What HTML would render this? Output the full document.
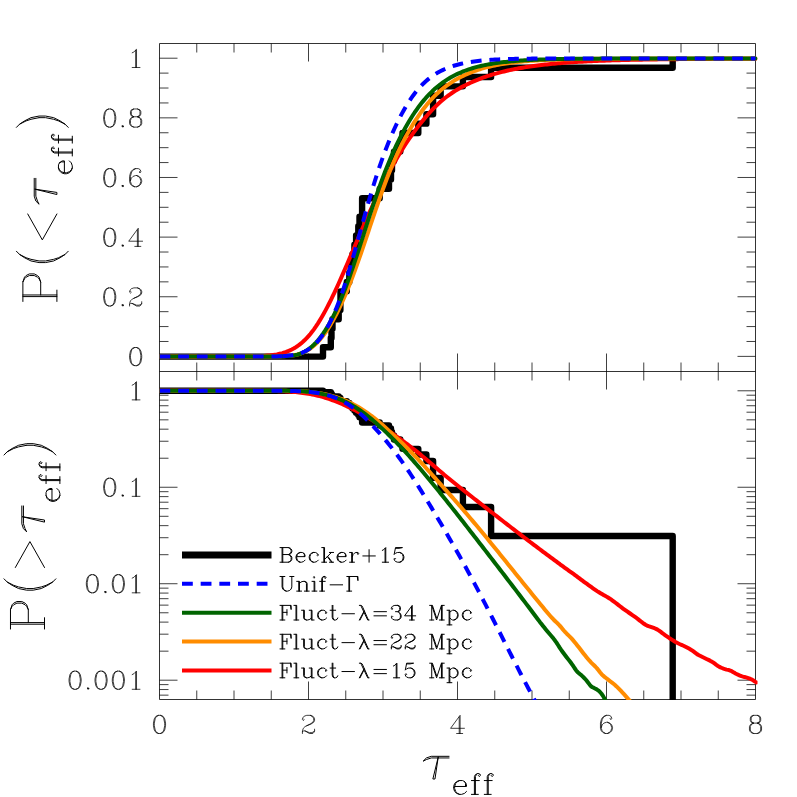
<!DOCTYPE html>
<html><head><meta charset="utf-8"><title>tau_eff CDF</title><style>html,body{margin:0;padding:0;background:#fff}body{width:797px;height:797px;overflow:hidden;font-family:"Liberation Sans",sans-serif}svg{display:block}</style></head><body>
<svg width="797" height="797" viewBox="0 0 797 797">
<rect width="797" height="797" fill="#fff"/>
<defs><clipPath id="ct"><rect x="159.5" y="43.5" width="598.0" height="328.0"/></clipPath><clipPath id="cb"><rect x="159.5" y="371.5" width="598.0" height="328.5"/></clipPath></defs>
<path d="M196.75 43.5V52.5M196.75 362.5V380.5M196.75 690.5V699.5M234 43.5V52.5M234 362.5V380.5M234 690.5V699.5M271.25 43.5V52.5M271.25 362.5V380.5M271.25 690.5V699.5M308.5 43.5V61.5M308.5 353.5V389.5M308.5 681.5V699.5M345.75 43.5V52.5M345.75 362.5V380.5M345.75 690.5V699.5M383 43.5V52.5M383 362.5V380.5M383 690.5V699.5M420.25 43.5V52.5M420.25 362.5V380.5M420.25 690.5V699.5M457.5 43.5V61.5M457.5 353.5V389.5M457.5 681.5V699.5M494.75 43.5V52.5M494.75 362.5V380.5M494.75 690.5V699.5M532 43.5V52.5M532 362.5V380.5M532 690.5V699.5M569.25 43.5V52.5M569.25 362.5V380.5M569.25 690.5V699.5M606.5 43.5V61.5M606.5 353.5V389.5M606.5 681.5V699.5M643.75 43.5V52.5M643.75 362.5V380.5M643.75 690.5V699.5M681 43.5V52.5M681 362.5V380.5M681 690.5V699.5M718.25 43.5V52.5M718.25 362.5V380.5M718.25 690.5V699.5M159.5 356.39H177.5M737.5 356.39H755.5M159.5 341.48H168.5M746.5 341.48H755.5M159.5 326.57H168.5M746.5 326.57H755.5M159.5 311.66H168.5M746.5 311.66H755.5M159.5 296.75H177.5M737.5 296.75H755.5M159.5 281.85H168.5M746.5 281.85H755.5M159.5 266.94H168.5M746.5 266.94H755.5M159.5 252.03H168.5M746.5 252.03H755.5M159.5 237.12H177.5M737.5 237.12H755.5M159.5 222.21H168.5M746.5 222.21H755.5M159.5 207.3H168.5M746.5 207.3H755.5M159.5 192.39H168.5M746.5 192.39H755.5M159.5 177.48H177.5M737.5 177.48H755.5M159.5 162.57H168.5M746.5 162.57H755.5M159.5 147.66H168.5M746.5 147.66H755.5M159.5 132.76H168.5M746.5 132.76H755.5M159.5 117.85H177.5M737.5 117.85H755.5M159.5 102.94H168.5M746.5 102.94H755.5M159.5 88.03H168.5M746.5 88.03H755.5M159.5 73.12H168.5M746.5 73.12H755.5M159.5 58.21H177.5M737.5 58.21H755.5M159.5 695.15H168.5M746.5 695.15H755.5M159.5 689.55H168.5M746.5 689.55H755.5M159.5 684.62H168.5M746.5 684.62H755.5M159.5 680.2H177.5M737.5 680.2H755.5M159.5 651.16H168.5M746.5 651.16H755.5M159.5 634.18H168.5M746.5 634.18H755.5M159.5 622.12H168.5M746.5 622.12H755.5M159.5 612.77H168.5M746.5 612.77H755.5M159.5 605.14H168.5M746.5 605.14H755.5M159.5 598.68H168.5M746.5 598.68H755.5M159.5 593.08H168.5M746.5 593.08H755.5M159.5 588.15H168.5M746.5 588.15H755.5M159.5 583.73H177.5M737.5 583.73H755.5M159.5 554.69H168.5M746.5 554.69H755.5M159.5 537.71H168.5M746.5 537.71H755.5M159.5 525.65H168.5M746.5 525.65H755.5M159.5 516.3H168.5M746.5 516.3H755.5M159.5 508.67H168.5M746.5 508.67H755.5M159.5 502.21H168.5M746.5 502.21H755.5M159.5 496.61H168.5M746.5 496.61H755.5M159.5 491.68H168.5M746.5 491.68H755.5M159.5 487.26H177.5M737.5 487.26H755.5M159.5 458.22H168.5M746.5 458.22H755.5M159.5 441.24H168.5M746.5 441.24H755.5M159.5 429.18H168.5M746.5 429.18H755.5M159.5 419.83H168.5M746.5 419.83H755.5M159.5 412.2H168.5M746.5 412.2H755.5M159.5 405.74H168.5M746.5 405.74H755.5M159.5 400.14H168.5M746.5 400.14H755.5M159.5 395.21H168.5M746.5 395.21H755.5M159.5 390.79H177.5M737.5 390.79H755.5" stroke="#000" stroke-width="0.75" fill="none"/>
<path d="M159.5 43.5H755.5V699.5H159.5ZM159.5 371.5H755.5" stroke="#000" stroke-width="0.8" fill="none"/>
<g clip-path="url(#ct)" fill="none" stroke-linejoin="round">
<path d="M159.5 356.59 L323 356.59 L323 347.27 L330.8 347.27 L330.8 337.95 L331.5 337.95 L331.5 328.64 L332.5 328.64 L332.5 319.32 L338.7 319.32 L338.7 310 L340.4 310 L340.4 300.68 L340.5 300.68 L340.5 291.36 L346.8 291.36 L346.8 282.05 L349.3 282.05 L349.3 272.73 L350.8 272.73 L350.8 263.41 L352.5 263.41 L352.5 254.09 L354.4 254.09 L354.4 244.77 L356.1 244.77 L356.1 235.46 L358.3 235.46 L358.3 226.14 L359.5 226.14 L359.5 216.82 L362.1 216.82 L362.1 207.5 L362.1 207.5 L362.1 198.18 L379.7 198.18 L379.7 188.86 L389 188.86 L389 179.55 L391 179.55 L391 170.23 L392 170.23 L392 160.91 L394 160.91 L394 151.59 L400.3 151.59 L400.3 142.27 L402.5 142.27 L402.5 132.96 L418.3 132.96 L418.3 123.64 L426.4 123.64 L426.4 114.32 L433.1 114.32 L433.1 105 L433.1 105 L433.1 95.68 L440.65 95.68 L440.65 86.37 L462.9 86.37 L462.9 77.05 L491.1 77.05 L491.1 67.73 L672.7 67.73 L672.7 58.41" stroke="#000" stroke-width="6.4" stroke-linejoin="round"/>
<path d="M159.5 356.59 L161.36 356.59 L163.22 356.59 L165.09 356.59 L166.95 356.59 L168.81 356.59 L170.68 356.59 L172.54 356.59 L174.4 356.59 L176.26 356.59 L178.12 356.59 L179.99 356.59 L181.85 356.59 L183.71 356.59 L185.57 356.59 L187.44 356.59 L189.3 356.59 L191.16 356.59 L193.03 356.59 L194.89 356.59 L196.75 356.59 L198.61 356.59 L200.47 356.59 L202.34 356.59 L204.2 356.59 L206.06 356.59 L207.93 356.59 L209.79 356.59 L211.65 356.59 L213.51 356.59 L215.38 356.59 L217.24 356.59 L219.1 356.59 L220.96 356.59 L222.83 356.58 L224.69 356.58 L226.55 356.58 L228.41 356.58 L230.28 356.57 L232.14 356.57 L234 356.56 L235.86 356.56 L237.73 356.55 L239.59 356.54 L241.45 356.52 L243.31 356.51 L245.18 356.49 L247.04 356.46 L248.9 356.44 L250.76 356.4 L252.62 356.36 L254.49 356.31 L256.35 356.25 L258.21 356.19 L260.07 356.1 L261.94 356.01 L263.8 355.89 L265.66 355.76 L267.53 355.61 L269.39 355.43 L271.25 355.21 L273.11 354.97 L274.98 354.69 L276.84 354.37 L278.7 353.99 L280.56 353.57 L282.43 353.08 L284.29 352.53 L286.15 351.91 L288.01 351.2 L289.88 350.41 L291.74 349.53 L293.6 348.54 L295.46 347.44 L297.33 346.23 L299.19 344.89 L301.05 343.43 L302.91 341.82 L304.77 340.08 L306.64 338.19 L308.5 336.14 L310.36 333.95 L312.23 331.6 L314.09 329.09 L315.95 326.43 L317.81 323.62 L319.67 320.65 L321.54 317.54 L323.4 314.29 L325.26 310.91 L327.12 307.4 L328.99 303.78 L330.85 300.05 L332.71 296.22 L334.58 292.3 L336.44 288.29 L338.3 284.21 L340.16 280.07 L342.02 275.86 L343.89 271.61 L345.75 267.32 L347.61 262.99 L349.48 258.65 L351.34 254.28 L353.2 249.91 L355.06 245.54 L356.93 241.17 L358.79 236.82 L360.65 232.49 L362.51 228.18 L364.38 223.91 L366.24 219.67 L368.1 215.48 L369.96 211.33 L371.83 207.23 L373.69 203.18 L375.55 199.19 L377.41 195.26 L379.27 191.4 L381.14 187.59 L383 183.86 L384.86 180.19 L386.73 176.59 L388.59 173.07 L390.45 169.61 L392.31 166.23 L394.18 162.91 L396.04 159.67 L397.9 156.51 L399.76 153.41 L401.62 150.39 L403.49 147.43 L405.35 144.54 L407.21 141.72 L409.08 138.96 L410.94 136.27 L412.8 133.64 L414.66 131.08 L416.53 128.57 L418.39 126.12 L420.25 123.73 L422.11 121.4 L423.98 119.12 L425.84 116.9 L427.7 114.75 L429.56 112.66 L431.43 110.64 L433.29 108.69 L435.15 106.8 L437.01 104.99 L438.88 103.25 L440.74 101.58 L442.6 99.98 L444.46 98.45 L446.32 96.99 L448.19 95.59 L450.05 94.26 L451.91 92.99 L453.78 91.77 L455.64 90.6 L457.5 89.48 L459.36 88.4 L461.22 87.37 L463.09 86.37 L464.95 85.41 L466.81 84.49 L468.68 83.6 L470.54 82.74 L472.4 81.91 L474.26 81.1 L476.12 80.33 L477.99 79.58 L479.85 78.85 L481.71 78.15 L483.58 77.48 L485.44 76.83 L487.3 76.2 L489.16 75.59 L491.03 75 L492.89 74.44 L494.75 73.89 L496.61 73.37 L498.47 72.86 L500.34 72.37 L502.2 71.89 L504.06 71.44 L505.93 71 L507.79 70.57 L509.65 70.16 L511.51 69.76 L513.38 69.38 L515.24 69.01 L517.1 68.66 L518.96 68.31 L520.83 67.98 L522.69 67.66 L524.55 67.35 L526.41 67.06 L528.28 66.77 L530.14 66.49 L532 66.22 L533.86 65.97 L535.73 65.72 L537.59 65.48 L539.45 65.24 L541.31 65.02 L543.17 64.8 L545.04 64.59 L546.9 64.39 L548.76 64.2 L550.62 64.01 L552.49 63.83 L554.35 63.65 L556.21 63.48 L558.08 63.32 L559.94 63.16 L561.8 63.01 L563.66 62.86 L565.53 62.72 L567.39 62.58 L569.25 62.45 L571.11 62.32 L572.98 62.2 L574.84 62.08 L576.7 61.96 L578.56 61.85 L580.42 61.74 L582.29 61.64 L584.15 61.53 L586.01 61.44 L587.88 61.34 L589.74 61.25 L591.6 61.16 L593.46 61.08 L595.33 61 L597.19 60.92 L599.05 60.84 L600.91 60.77 L602.78 60.7 L604.64 60.63 L606.5 60.56 L608.36 60.49 L610.23 60.43 L612.09 60.37 L613.95 60.31 L615.81 60.26 L617.67 60.2 L619.54 60.15 L621.4 60.1 L623.26 60.05 L625.12 60 L626.99 59.95 L628.85 59.91 L630.71 59.87 L632.58 59.82 L634.44 59.78 L636.3 59.75 L638.16 59.71 L640.03 59.67 L641.89 59.64 L643.75 59.6 L645.61 59.57 L647.48 59.54 L649.34 59.5 L651.2 59.47 L653.06 59.44 L654.92 59.42 L656.79 59.39 L658.65 59.36 L660.51 59.34 L662.38 59.31 L664.24 59.29 L666.1 59.26 L667.96 59.24 L669.83 59.22 L671.69 59.2 L673.55 59.18 L675.41 59.16 L677.27 59.14 L679.14 59.12 L681 59.1 L682.86 59.08 L684.73 59.07 L686.59 59.05 L688.45 59.03 L690.31 59.02 L692.18 59 L694.04 58.99 L695.9 58.98 L697.76 58.96 L699.62 58.95 L701.49 58.94 L703.35 58.92 L705.21 58.91 L707.08 58.9 L708.94 58.89 L710.8 58.88 L712.66 58.87 L714.52 58.86 L716.39 58.85 L718.25 58.84 L720.11 58.83 L721.98 58.82 L723.84 58.81 L725.7 58.8 L727.56 58.79 L729.43 58.79 L731.29 58.78 L733.15 58.77 L735.01 58.76 L736.88 58.76 L738.74 58.75 L740.6 58.74 L742.46 58.74 L744.33 58.73 L746.19 58.72 L748.05 58.72 L749.91 58.71 L751.77 58.71 L753.64 58.7 L755.5 58.7" stroke="#ff0000" stroke-width="4" stroke-linecap="round"/>
<path d="M159.5 356.59 L161.36 356.59 L163.22 356.59 L165.09 356.59 L166.95 356.59 L168.81 356.59 L170.68 356.59 L172.54 356.59 L174.4 356.59 L176.26 356.59 L178.12 356.59 L179.99 356.59 L181.85 356.59 L183.71 356.59 L185.57 356.59 L187.44 356.59 L189.3 356.59 L191.16 356.59 L193.03 356.59 L194.89 356.59 L196.75 356.59 L198.61 356.59 L200.47 356.59 L202.34 356.59 L204.2 356.59 L206.06 356.59 L207.93 356.59 L209.79 356.59 L211.65 356.59 L213.51 356.59 L215.38 356.59 L217.24 356.59 L219.1 356.59 L220.96 356.59 L222.83 356.59 L224.69 356.59 L226.55 356.59 L228.41 356.59 L230.28 356.59 L232.14 356.59 L234 356.59 L235.86 356.59 L237.73 356.59 L239.59 356.59 L241.45 356.59 L243.31 356.59 L245.18 356.59 L247.04 356.59 L248.9 356.59 L250.76 356.59 L252.62 356.59 L254.49 356.59 L256.35 356.59 L258.21 356.59 L260.07 356.58 L261.94 356.58 L263.8 356.58 L265.66 356.57 L267.53 356.57 L269.39 356.56 L271.25 356.54 L273.11 356.53 L274.98 356.5 L276.84 356.47 L278.7 356.43 L280.56 356.38 L282.43 356.31 L284.29 356.22 L286.15 356.11 L288.01 355.97 L289.88 355.79 L291.74 355.57 L293.6 355.29 L295.46 354.95 L297.33 354.52 L299.19 354.01 L301.05 353.38 L302.91 352.65 L304.77 351.8 L306.64 350.83 L308.5 349.72 L310.36 348.47 L312.23 347.08 L314.09 345.52 L315.95 343.81 L317.81 341.94 L319.67 339.9 L321.54 337.69 L323.4 335.32 L325.26 332.77 L327.12 330.05 L328.99 327.17 L330.85 324.12 L332.71 320.9 L334.58 317.51 L336.44 313.96 L338.3 310.25 L340.16 306.39 L342.02 302.36 L343.89 298.19 L345.75 293.86 L347.61 289.38 L349.48 284.75 L351.34 279.98 L353.2 275.07 L355.06 270.02 L356.93 264.86 L358.79 259.6 L360.65 254.25 L362.51 248.82 L364.38 243.34 L366.24 237.82 L368.1 232.27 L369.96 226.72 L371.83 221.18 L373.69 215.66 L375.55 210.19 L377.41 204.77 L379.27 199.43 L381.14 194.17 L383 189.01 L384.86 183.96 L386.73 179.03 L388.59 174.23 L390.45 169.57 L392.31 165.05 L394.18 160.68 L396.04 156.47 L397.9 152.41 L399.76 148.49 L401.62 144.72 L403.49 141.07 L405.35 137.56 L407.21 134.16 L409.08 130.88 L410.94 127.71 L412.8 124.65 L414.66 121.68 L416.53 118.81 L418.39 116.03 L420.25 113.35 L422.11 110.77 L423.98 108.28 L425.84 105.9 L427.7 103.61 L429.56 101.43 L431.43 99.34 L433.29 97.35 L435.15 95.46 L437.01 93.66 L438.88 91.95 L440.74 90.32 L442.6 88.78 L444.46 87.3 L446.32 85.9 L448.19 84.57 L450.05 83.3 L451.91 82.08 L453.78 80.92 L455.64 79.82 L457.5 78.76 L459.36 77.75 L461.22 76.79 L463.09 75.87 L464.95 74.99 L466.81 74.15 L468.68 73.35 L470.54 72.58 L472.4 71.86 L474.26 71.16 L476.12 70.5 L477.99 69.88 L479.85 69.28 L481.71 68.71 L483.58 68.17 L485.44 67.66 L487.3 67.17 L489.16 66.7 L491.03 66.27 L492.89 65.85 L494.75 65.45 L496.61 65.08 L498.47 64.72 L500.34 64.38 L502.2 64.06 L504.06 63.76 L505.93 63.47 L507.79 63.2 L509.65 62.94 L511.51 62.7 L513.38 62.47 L515.24 62.25 L517.1 62.04 L518.96 61.85 L520.83 61.66 L522.69 61.49 L524.55 61.32 L526.41 61.17 L528.28 61.02 L530.14 60.88 L532 60.75 L533.86 60.63 L535.73 60.51 L537.59 60.4 L539.45 60.29 L541.31 60.19 L543.17 60.1 L545.04 60.01 L546.9 59.93 L548.76 59.85 L550.62 59.77 L552.49 59.7 L554.35 59.64 L556.21 59.57 L558.08 59.51 L559.94 59.46 L561.8 59.4 L563.66 59.35 L565.53 59.31 L567.39 59.26 L569.25 59.22 L571.11 59.18 L572.98 59.14 L574.84 59.11 L576.7 59.07 L578.56 59.04 L580.42 59.01 L582.29 58.98 L584.15 58.95 L586.01 58.93 L587.88 58.9 L589.74 58.88 L591.6 58.86 L593.46 58.84 L595.33 58.82 L597.19 58.8 L599.05 58.78 L600.91 58.77 L602.78 58.75 L604.64 58.74 L606.5 58.72 L608.36 58.71 L610.23 58.7 L612.09 58.68 L613.95 58.67 L615.81 58.66 L617.67 58.65 L619.54 58.64 L621.4 58.63 L623.26 58.62 L625.12 58.62 L626.99 58.61 L628.85 58.6 L630.71 58.59 L632.58 58.59 L634.44 58.58 L636.3 58.57 L638.16 58.57 L640.03 58.56 L641.89 58.55 L643.75 58.55 L645.61 58.54 L647.48 58.54 L649.34 58.53 L651.2 58.53 L653.06 58.52 L654.92 58.52 L656.79 58.51 L658.65 58.51 L660.51 58.51 L662.38 58.5 L664.24 58.5 L666.1 58.5 L667.96 58.49 L669.83 58.49 L671.69 58.49 L673.55 58.48 L675.41 58.48 L677.27 58.48 L679.14 58.47 L681 58.47 L682.86 58.47 L684.73 58.47 L686.59 58.46 L688.45 58.46 L690.31 58.46 L692.18 58.46 L694.04 58.46 L695.9 58.45 L697.76 58.45 L699.62 58.45 L701.49 58.45 L703.35 58.45 L705.21 58.45 L707.08 58.44 L708.94 58.44 L710.8 58.44 L712.66 58.44 L714.52 58.44 L716.39 58.44 L718.25 58.44 L720.11 58.43 L721.98 58.43 L723.84 58.43 L725.7 58.43 L727.56 58.43 L729.43 58.43 L731.29 58.43 L733.15 58.43 L735.01 58.43 L736.88 58.43 L738.74 58.43 L740.6 58.43 L742.46 58.42 L744.33 58.42 L746.19 58.42 L748.05 58.42 L749.91 58.42 L751.77 58.42 L753.64 58.42 L755.5 58.42" stroke="#ff8c00" stroke-width="4" stroke-linecap="round"/>
<path d="M159.5 356.59 L161.36 356.59 L163.22 356.59 L165.09 356.59 L166.95 356.59 L168.81 356.59 L170.68 356.59 L172.54 356.59 L174.4 356.59 L176.26 356.59 L178.12 356.59 L179.99 356.59 L181.85 356.59 L183.71 356.59 L185.57 356.59 L187.44 356.59 L189.3 356.59 L191.16 356.59 L193.03 356.59 L194.89 356.59 L196.75 356.59 L198.61 356.59 L200.47 356.59 L202.34 356.59 L204.2 356.59 L206.06 356.59 L207.93 356.59 L209.79 356.59 L211.65 356.59 L213.51 356.59 L215.38 356.59 L217.24 356.59 L219.1 356.59 L220.96 356.59 L222.83 356.59 L224.69 356.59 L226.55 356.59 L228.41 356.59 L230.28 356.59 L232.14 356.59 L234 356.59 L235.86 356.59 L237.73 356.59 L239.59 356.59 L241.45 356.59 L243.31 356.59 L245.18 356.59 L247.04 356.59 L248.9 356.59 L250.76 356.59 L252.62 356.59 L254.49 356.59 L256.35 356.59 L258.21 356.59 L260.07 356.59 L261.94 356.59 L263.8 356.58 L265.66 356.58 L267.53 356.58 L269.39 356.57 L271.25 356.56 L273.11 356.55 L274.98 356.53 L276.84 356.51 L278.7 356.48 L280.56 356.43 L282.43 356.37 L284.29 356.3 L286.15 356.2 L288.01 356.06 L289.88 355.89 L291.74 355.67 L293.6 355.39 L295.46 355.03 L297.33 354.58 L299.19 354.02 L301.05 353.33 L302.91 352.51 L304.77 351.56 L306.64 350.46 L308.5 349.21 L310.36 347.8 L312.23 346.23 L314.09 344.49 L315.95 342.57 L317.81 340.48 L319.67 338.21 L321.54 335.77 L323.4 333.14 L325.26 330.34 L327.12 327.35 L328.99 324.19 L330.85 320.84 L332.71 317.31 L334.58 313.59 L336.44 309.67 L338.3 305.57 L340.16 301.26 L342.02 296.76 L343.89 292.07 L345.75 287.21 L347.61 282.18 L349.48 276.99 L351.34 271.67 L353.2 266.23 L355.06 260.68 L356.93 255.05 L358.79 249.34 L360.65 243.59 L362.51 237.8 L364.38 232.01 L366.24 226.21 L368.1 220.45 L369.96 214.72 L371.83 209.06 L373.69 203.47 L375.55 197.97 L377.41 192.57 L379.27 187.29 L381.14 182.14 L383 177.12 L384.86 172.25 L386.73 167.51 L388.59 162.92 L390.45 158.47 L392.31 154.16 L394.18 149.99 L396.04 145.95 L397.9 142.05 L399.76 138.28 L401.62 134.63 L403.49 131.12 L405.35 127.72 L407.21 124.44 L409.08 121.27 L410.94 118.23 L412.8 115.3 L414.66 112.48 L416.53 109.78 L418.39 107.2 L420.25 104.72 L422.11 102.36 L423.98 100.1 L425.84 97.94 L427.7 95.89 L429.56 93.93 L431.43 92.07 L433.29 90.29 L435.15 88.6 L437.01 87 L438.88 85.47 L440.74 84.02 L442.6 82.65 L444.46 81.34 L446.32 80.1 L448.19 78.92 L450.05 77.81 L451.91 76.75 L453.78 75.74 L455.64 74.79 L457.5 73.89 L459.36 73.04 L461.22 72.24 L463.09 71.47 L464.95 70.75 L466.81 70.07 L468.68 69.42 L470.54 68.81 L472.4 68.23 L474.26 67.68 L476.12 67.17 L477.99 66.68 L479.85 66.22 L481.71 65.78 L483.58 65.37 L485.44 64.98 L487.3 64.61 L489.16 64.27 L491.03 63.94 L492.89 63.63 L494.75 63.34 L496.61 63.06 L498.47 62.8 L500.34 62.55 L502.2 62.32 L504.06 62.1 L505.93 61.89 L507.79 61.7 L509.65 61.51 L511.51 61.34 L513.38 61.17 L515.24 61.02 L517.1 60.87 L518.96 60.73 L520.83 60.6 L522.69 60.47 L524.55 60.36 L526.41 60.25 L528.28 60.14 L530.14 60.04 L532 59.95 L533.86 59.86 L535.73 59.78 L537.59 59.7 L539.45 59.62 L541.31 59.55 L543.17 59.49 L545.04 59.42 L546.9 59.37 L548.76 59.31 L550.62 59.26 L552.49 59.21 L554.35 59.16 L556.21 59.12 L558.08 59.08 L559.94 59.04 L561.8 59.01 L563.66 58.97 L565.53 58.94 L567.39 58.91 L569.25 58.88 L571.11 58.86 L572.98 58.84 L574.84 58.81 L576.7 58.79 L578.56 58.77 L580.42 58.75 L582.29 58.74 L584.15 58.72 L586.01 58.71 L587.88 58.69 L589.74 58.68 L591.6 58.67 L593.46 58.66 L595.33 58.65 L597.19 58.64 L599.05 58.63 L600.91 58.62 L602.78 58.61 L604.64 58.6 L606.5 58.6 L608.36 58.59 L610.23 58.59 L612.09 58.58 L613.95 58.57 L615.81 58.57 L617.67 58.56 L619.54 58.56 L621.4 58.55 L623.26 58.55 L625.12 58.54 L626.99 58.54 L628.85 58.53 L630.71 58.53 L632.58 58.52 L634.44 58.52 L636.3 58.52 L638.16 58.51 L640.03 58.51 L641.89 58.51 L643.75 58.5 L645.61 58.5 L647.48 58.5 L649.34 58.49 L651.2 58.49 L653.06 58.49 L654.92 58.48 L656.79 58.48 L658.65 58.48 L660.51 58.48 L662.38 58.47 L664.24 58.47 L666.1 58.47 L667.96 58.47 L669.83 58.46 L671.69 58.46 L673.55 58.46 L675.41 58.46 L677.27 58.46 L679.14 58.46 L681 58.45 L682.86 58.45 L684.73 58.45 L686.59 58.45 L688.45 58.45 L690.31 58.45 L692.18 58.44 L694.04 58.44 L695.9 58.44 L697.76 58.44 L699.62 58.44 L701.49 58.44 L703.35 58.44 L705.21 58.44 L707.08 58.44 L708.94 58.43 L710.8 58.43 L712.66 58.43 L714.52 58.43 L716.39 58.43 L718.25 58.43 L720.11 58.43 L721.98 58.43 L723.84 58.43 L725.7 58.43 L727.56 58.43 L729.43 58.43 L731.29 58.43 L733.15 58.42 L735.01 58.42 L736.88 58.42 L738.74 58.42 L740.6 58.42 L742.46 58.42 L744.33 58.42 L746.19 58.42 L748.05 58.42 L749.91 58.42 L751.77 58.42 L753.64 58.42 L755.5 58.42" stroke="#006400" stroke-width="4" stroke-linecap="round"/>
<path d="M159.5 356.59 L161.36 356.59 L163.22 356.59 L165.09 356.59 L166.95 356.59 L168.81 356.59 L170.68 356.59 L172.54 356.59 L174.4 356.59 L176.26 356.59 L178.12 356.59 L179.99 356.59 L181.85 356.59 L183.71 356.59 L185.57 356.59 L187.44 356.59 L189.3 356.59 L191.16 356.59 L193.03 356.59 L194.89 356.59 L196.75 356.59 L198.61 356.59 L200.47 356.59 L202.34 356.59 L204.2 356.59 L206.06 356.59 L207.93 356.59 L209.79 356.59 L211.65 356.59 L213.51 356.59 L215.38 356.59 L217.24 356.59 L219.1 356.59 L220.96 356.59 L222.83 356.59 L224.69 356.59 L226.55 356.59 L228.41 356.59 L230.28 356.59 L232.14 356.59 L234 356.59 L235.86 356.59 L237.73 356.59 L239.59 356.59 L241.45 356.59 L243.31 356.59 L245.18 356.59 L247.04 356.59 L248.9 356.59 L250.76 356.59 L252.62 356.59 L254.49 356.58 L256.35 356.58 L258.21 356.58 L260.07 356.57 L261.94 356.57 L263.8 356.56 L265.66 356.55 L267.53 356.54 L269.39 356.52 L271.25 356.5 L273.11 356.47 L274.98 356.43 L276.84 356.39 L278.7 356.33 L280.56 356.26 L282.43 356.17 L282.6 356.16 M282.6 356.16 L284.29 356.06 L286.15 355.92 L288.01 355.75 L289.88 355.54 L291.74 355.29 L293.6 354.98 L295.46 354.61 L297.33 354.17 L299.19 353.65 L301.05 353.03 L302.91 352.3 L304.77 351.46 L306.64 350.49 L308.5 349.38 L310.36 348.12 L312.23 346.69 L314.09 345.08 L315.95 343.28 L317.81 341.27 L319.67 339.05 L321.54 336.61 L323.4 333.93 L325.26 331 L327.12 327.82 L328.99 324.38 L330.85 320.68 L332.71 316.71 L334.58 312.48 L336.44 307.98 L338.3 303.21 L340.16 298.19 L342.02 292.91 L343.89 287.39 L345.75 281.64 L347.61 275.68 L349.48 269.54 L351.34 263.22 L353.2 256.77 L355.06 250.21 L356.93 243.56 L358.79 236.86 L360.65 230.14 L362.51 223.42 L364.38 216.74 L366.24 210.12 L368.1 203.59 L369.96 197.18 L371.83 190.91 L373.69 184.79 L375.55 178.85 L377.41 173.08 L379.27 167.5 L381.14 162.1 L383 156.88 L384.86 151.85 L386.73 146.99 L388.59 142.31 L390.45 137.8 L392.31 133.46 L394.18 129.28 L396.04 125.26 L397.9 121.4 L399.76 117.68 L401.62 114.12 L403.49 110.71 L405.35 107.45 L407.21 104.35 L409.08 101.4 L410.94 98.59 L412.8 95.94 L414.66 93.44 L416.53 91.07 L418.39 88.85 L420.25 86.76 L422.11 84.8 L423.98 82.96 L425.84 81.24 L427.7 79.64 L429.56 78.14 L431.43 76.73 L433.29 75.43 L435.15 74.21 L437.01 73.07 L438.88 72.01 L440.74 71.02 L442.6 70.1 L444.46 69.24 L446.32 68.44 L448.19 67.7 L450.05 67.01 L451.91 66.36 L453.78 65.77 L455.64 65.21 L457.5 64.7 L459.36 64.22 L461.22 63.77 L463.09 63.36 L464.95 62.98 L466.81 62.62 L468.68 62.29 L470.54 61.99 L472.4 61.7 L474.26 61.44 L476.12 61.2 L477.99 60.97 L479.85 60.76 L481.71 60.57 L483.58 60.39 L485.44 60.23 L487.3 60.08 L489.16 59.94 L491.03 59.81 L492.89 59.7 L494.75 59.59 L496.61 59.49 L498.47 59.4 L500.34 59.32 L502.2 59.24 L504.06 59.17 L505.93 59.11 L507.79 59.05 L509.65 58.99 L511.51 58.95 L513.38 58.9 L515.24 58.86 L517.1 58.82 L518.96 58.79 L520.83 58.76 L522.69 58.73 L524.55 58.7 L526.41 58.68 L528.28 58.66 L530.14 58.64 L532 58.62 L533.86 58.6 L535.73 58.59 L537.59 58.57 L539.45 58.56 L541.31 58.55 L543.17 58.54 L545.04 58.53 L546.9 58.52 L548.76 58.51 L550.62 58.5 L552.49 58.49 L554.35 58.49 L556.21 58.48 L558.08 58.47 L559.94 58.47 L561.8 58.46 L563.66 58.46 L565.53 58.45 L567.39 58.45 L569.25 58.45 L571.11 58.44 L572.98 58.44 L574.84 58.44 L576.7 58.44 L578.56 58.43 L580.42 58.43 L582.29 58.43 L584.15 58.43 L586.01 58.43 L587.88 58.42 L589.74 58.42 L591.6 58.42 L593.46 58.42 L595.33 58.42 L597.19 58.42 L599.05 58.42 L600.91 58.42 L602.78 58.42 L604.64 58.42 L606.5 58.42 L608.36 58.42 L610.23 58.42 L612.09 58.41 L613.95 58.41 L615.81 58.41 L617.67 58.41 L619.54 58.41 L621.4 58.41 L623.26 58.41 L625.12 58.41 L626.99 58.41 L628.85 58.41 L630.71 58.41 L632.58 58.41 L634.44 58.41 L636.3 58.41 L638.16 58.41 L640.03 58.41 L641.89 58.41 L643.75 58.41 L645.61 58.41 L647.48 58.41 L649.34 58.41 L651.2 58.41 L653.06 58.41 L654.92 58.41 L656.79 58.41 L658.65 58.41 L660.51 58.41 L662.38 58.41 L664.24 58.41 L666.1 58.41 L667.96 58.41 L669.83 58.41 L671.69 58.41 L673.55 58.41 L675.41 58.41 L677.27 58.41 L679.14 58.41 L681 58.41 L682.86 58.41 L684.73 58.41 L686.59 58.41 L688.45 58.41 L690.31 58.41 L692.18 58.41 L694.04 58.41 L695.9 58.41 L697.76 58.41 L699.62 58.41 L701.49 58.41 L703.35 58.41 L705.21 58.41 L707.08 58.41 L708.94 58.41 L710.8 58.41 L712.66 58.41 L714.52 58.41 L716.39 58.41 L718.25 58.41 L720.11 58.41 L721.98 58.41 L723.84 58.41 L725.7 58.41 L727.56 58.41 L729.43 58.41 L731.29 58.41 L733.15 58.41 L735.01 58.41 L736.88 58.41 L738.74 58.41 L740.6 58.41 L742.46 58.41 L744.33 58.41 L746.19 58.41 L748.05 58.41 L749.91 58.41 L751.77 58.41 L753.64 58.41 L755.5 58.41" stroke="#0000ff" stroke-width="4" stroke-dasharray="10.8 7.87"/>
</g>
<g clip-path="url(#cb)" fill="none" stroke-linejoin="round">
<path d="M159.5 390.79 L323 390.79 L323 392.12 L330.8 392.12 L330.8 393.5 L331.5 393.5 L331.5 394.92 L332.5 394.92 L332.5 396.39 L338.7 396.39 L338.7 397.91 L340.4 397.91 L340.4 399.49 L340.5 399.49 L340.5 401.14 L346.8 401.14 L346.8 402.85 L349.3 402.85 L349.3 404.63 L350.8 404.63 L350.8 406.49 L352.5 406.49 L352.5 408.44 L354.4 408.44 L354.4 410.49 L356.1 410.49 L356.1 412.63 L358.3 412.63 L358.3 414.9 L359.5 414.9 L359.5 417.29 L362.1 417.29 L362.1 419.83 L362.1 419.83 L362.1 422.54 L379.7 422.54 L379.7 425.43 L389 425.43 L389 428.53 L391 428.53 L391 431.89 L392 431.89 L392 435.53 L394 435.53 L394 439.53 L400.3 439.53 L400.3 443.94 L402.5 443.94 L402.5 448.87 L418.3 448.87 L418.3 454.47 L426.4 454.47 L426.4 460.93 L433.1 460.93 L433.1 468.57 L433.1 468.57 L433.1 477.92 L440.65 477.92 L440.65 489.97 L462.9 489.97 L462.9 506.96 L491.1 506.96 L491.1 536 L672.7 536 L672.7 719.5" stroke="#000" stroke-width="6.4" stroke-linejoin="round"/>
<path d="M159.5 390.79 L161.36 390.79 L163.22 390.79 L165.09 390.79 L166.95 390.79 L168.81 390.79 L170.68 390.79 L172.54 390.79 L174.4 390.79 L176.26 390.79 L178.12 390.79 L179.99 390.79 L181.85 390.79 L183.71 390.79 L185.57 390.79 L187.44 390.79 L189.3 390.79 L191.16 390.79 L193.03 390.79 L194.89 390.79 L196.75 390.79 L198.61 390.79 L200.47 390.79 L202.34 390.79 L204.2 390.79 L206.06 390.79 L207.93 390.79 L209.79 390.79 L211.65 390.79 L213.51 390.79 L215.38 390.79 L217.24 390.79 L219.1 390.79 L220.96 390.79 L222.83 390.79 L224.69 390.8 L226.55 390.8 L228.41 390.8 L230.28 390.8 L232.14 390.8 L234 390.8 L235.86 390.8 L237.73 390.8 L239.59 390.8 L241.45 390.8 L243.31 390.81 L245.18 390.81 L247.04 390.81 L248.9 390.82 L250.76 390.82 L252.62 390.83 L254.49 390.83 L256.35 390.84 L258.21 390.85 L260.07 390.86 L261.94 390.88 L263.8 390.89 L265.66 390.91 L267.53 390.93 L269.39 390.96 L271.25 390.99 L273.11 391.02 L274.98 391.06 L276.84 391.11 L278.7 391.16 L280.56 391.22 L282.43 391.29 L284.29 391.37 L286.15 391.46 L288.01 391.56 L289.88 391.67 L291.74 391.8 L293.6 391.94 L295.46 392.1 L297.33 392.28 L299.19 392.47 L301.05 392.69 L302.91 392.92 L304.77 393.18 L306.64 393.46 L308.5 393.77 L310.36 394.1 L312.23 394.46 L314.09 394.85 L315.95 395.26 L317.81 395.7 L319.67 396.17 L321.54 396.67 L323.4 397.2 L325.26 397.76 L327.12 398.35 L328.99 398.96 L330.85 399.6 L332.71 400.27 L334.58 400.97 L336.44 401.69 L338.3 402.44 L340.16 403.22 L342.02 404.02 L343.89 404.85 L345.75 405.7 L347.61 406.58 L349.48 407.48 L351.34 408.4 L353.2 409.35 L355.06 410.31 L356.93 411.3 L358.79 412.31 L360.65 413.34 L362.51 414.39 L364.38 415.46 L366.24 416.55 L368.1 417.65 L369.96 418.77 L371.83 419.91 L373.69 421.07 L375.55 422.24 L377.41 423.42 L379.27 424.62 L381.14 425.84 L383 427.07 L384.86 428.31 L386.73 429.57 L388.59 430.84 L390.45 432.12 L392.31 433.41 L394.18 434.72 L396.04 436.04 L397.9 437.37 L399.76 438.72 L401.62 440.07 L403.49 441.44 L405.35 442.82 L407.21 444.22 L409.08 445.63 L410.94 447.05 L412.8 448.49 L414.66 449.94 L416.53 451.42 L418.39 452.9 L420.25 454.41 L422.11 455.93 L423.98 457.48 L425.84 459.03 L427.7 460.61 L429.56 462.19 L431.43 463.78 L433.29 465.38 L435.15 466.98 L437.01 468.58 L438.88 470.17 L440.74 471.77 L442.6 473.35 L444.46 474.92 L446.32 476.47 L448.19 478.01 L450.05 479.54 L451.91 481.06 L453.78 482.56 L455.64 484.06 L457.5 485.54 L459.36 487.02 L461.22 488.49 L463.09 489.96 L464.95 491.42 L466.81 492.88 L468.68 494.33 L470.54 495.79 L472.4 497.25 L474.26 498.71 L476.12 500.16 L477.99 501.62 L479.85 503.08 L481.71 504.54 L483.58 506 L485.44 507.45 L487.3 508.91 L489.16 510.36 L491.03 511.82 L492.89 513.27 L494.75 514.72 L496.61 516.18 L498.47 517.62 L500.34 519.07 L502.2 520.52 L504.06 521.96 L505.93 523.41 L507.79 524.85 L509.65 526.29 L511.51 527.72 L513.38 529.16 L515.24 530.59 L517.1 532.02 L518.96 533.45 L520.83 534.88 L522.69 536.3 L524.55 537.72 L526.41 539.14 L528.28 540.55 L530.14 541.97 L532 543.38 L533.86 544.79 L535.73 546.19 L537.59 547.6 L539.45 549 L541.31 550.39 L543.17 551.79 L545.04 553.18 L546.9 554.57 L548.76 555.96 L550.62 557.34 L552.49 558.72 L554.35 560.1 L556.21 561.48 L558.08 562.85 L559.94 564.23 L560 564.27 L561.5 565.38 L563 566.47 L564.5 567.56 L566 568.64 L567.5 569.71 L569 570.78 L570.5 571.85 L572 572.92 L573.5 573.99 L575 575.08 L576.5 576.19 L578 577.3 L579.5 578.43 L581 579.56 L582.5 580.69 L584 581.8 L585.5 582.89 L587 583.98 L588.5 585.07 L590 586.16 L591.5 587.23 L593 588.29 L594.5 589.33 L596 590.35 L597.5 591.34 L599 592.28 L600.5 593.18 L602 594.04 L603.5 594.89 L605 595.74 L606.5 596.61 L608 597.5 L609.5 598.44 L611 599.44 L612.5 600.51 L614 601.62 L615.5 602.77 L617 603.94 L618.5 605.11 L620 606.28 L621.5 607.42 L623 608.52 L624.5 609.59 L626 610.65 L627.5 611.7 L629 612.74 L630.5 613.77 L632 614.81 L633.5 615.84 L635 616.89 L636.5 617.97 L638 619.13 L639.5 620.33 L641 621.53 L642.5 622.69 L644 623.78 L645.5 624.74 L647 625.55 L648.5 626.15 L650 626.6 L651.5 627.12 L653 627.65 L654.5 628.22 L656 628.87 L657.5 629.62 L659 630.59 L660.5 631.69 L662 632.86 L663.5 633.99 L665 635.05 L666.5 636.12 L668 637.18 L669.5 638.21 L671 639.19 L672.5 640.14 L674 641.07 L675.5 641.96 L677 642.79 L678.5 643.54 L680 644.22 L681.5 644.85 L683 645.5 L684.5 646.2 L686 646.96 L687.5 647.75 L689 648.58 L690.5 649.45 L692 650.39 L693.5 651.46 L695 652.6 L696.5 653.72 L698 654.72 L699.5 655.56 L701 656.31 L702.5 657.02 L704 657.72 L705.5 658.45 L707 659.18 L708.5 659.9 L710 660.65 L711.5 661.46 L713 662.37 L714.5 663.46 L716 664.61 L717.5 665.7 L719 666.6 L720.5 667.33 L722 667.99 L723.5 668.58 L725 669.11 L726.5 669.57 L728 669.93 L729.5 670.31 L731 670.87 L732.5 671.69 L734 672.6 L735.5 673.45 L737 674.2 L738.5 674.92 L740 675.58 L741.5 676.14 L743 676.59 L744.5 676.99 L746 677.41 L747.5 677.9 L749 678.41 L750.5 678.98 L752 679.65 L753.5 680.56 L755 681.62 L756.5 682.5" stroke="#ff0000" stroke-width="4" stroke-linecap="round"/>
<path d="M159.5 390.79 L161.36 390.79 L163.22 390.79 L165.09 390.79 L166.95 390.79 L168.81 390.79 L170.68 390.79 L172.54 390.79 L174.4 390.79 L176.26 390.79 L178.12 390.79 L179.99 390.79 L181.85 390.79 L183.71 390.79 L185.57 390.79 L187.44 390.79 L189.3 390.79 L191.16 390.79 L193.03 390.79 L194.89 390.79 L196.75 390.79 L198.61 390.79 L200.47 390.79 L202.34 390.79 L204.2 390.79 L206.06 390.79 L207.93 390.79 L209.79 390.79 L211.65 390.79 L213.51 390.79 L215.38 390.79 L217.24 390.79 L219.1 390.79 L220.96 390.79 L222.83 390.79 L224.69 390.79 L226.55 390.79 L228.41 390.79 L230.28 390.79 L232.14 390.79 L234 390.79 L235.86 390.79 L237.73 390.79 L239.59 390.79 L241.45 390.79 L243.31 390.79 L245.18 390.79 L247.04 390.79 L248.9 390.79 L250.76 390.79 L252.62 390.79 L254.49 390.79 L256.35 390.79 L258.21 390.79 L260.07 390.79 L261.94 390.8 L263.8 390.8 L265.66 390.8 L267.53 390.8 L269.39 390.8 L271.25 390.8 L273.11 390.8 L274.98 390.81 L276.84 390.81 L278.7 390.82 L280.56 390.82 L282.43 390.83 L284.29 390.85 L286.15 390.86 L288.01 390.88 L289.88 390.91 L291.74 390.94 L293.6 390.98 L295.46 391.03 L297.33 391.09 L299.19 391.16 L301.05 391.25 L302.91 391.35 L304.77 391.47 L306.64 391.61 L308.5 391.77 L310.36 391.95 L312.23 392.15 L314.09 392.38 L315.95 392.63 L317.81 392.9 L319.67 393.21 L321.54 393.54 L323.4 393.9 L325.26 394.28 L327.12 394.7 L328.99 395.15 L330.85 395.63 L332.71 396.14 L334.58 396.68 L336.44 397.26 L338.3 397.87 L340.16 398.52 L342.02 399.2 L343.89 399.93 L345.75 400.69 L347.61 401.5 L349.48 402.34 L351.34 403.24 L353.2 404.18 L355.06 405.16 L356.93 406.2 L358.79 407.28 L360.65 408.41 L362.51 409.59 L364.38 410.81 L366.24 412.08 L368.1 413.39 L369.96 414.75 L371.83 416.16 L373.69 417.6 L375.55 419.09 L377.41 420.61 L379.27 422.17 L381.14 423.76 L383 425.38 L384.86 427.03 L386.73 428.71 L388.59 430.41 L390.45 432.14 L392.31 433.87 L394.18 435.62 L396.04 437.39 L397.9 439.16 L399.76 440.94 L401.62 442.74 L403.49 444.54 L405.35 446.37 L407.21 448.2 L409.08 450.06 L410.94 451.93 L412.8 453.83 L414.66 455.75 L416.53 457.69 L418.39 459.66 L420.25 461.66 L422.11 463.68 L423.98 465.71 L425.84 467.77 L427.7 469.83 L429.56 471.91 L431.43 473.99 L433.29 476.08 L435.15 478.17 L437.01 480.26 L438.88 482.34 L440.74 484.42 L442.6 486.5 L444.46 488.59 L446.32 490.67 L448.19 492.75 L450.05 494.84 L451.91 496.94 L453.78 499.04 L455.64 501.15 L457.5 503.27 L459.36 505.4 L461.22 507.54 L463.09 509.69 L464.95 511.86 L466.81 514.04 L468.68 516.23 L470.54 518.42 L472.4 520.63 L474.26 522.85 L476.12 525.08 L477.99 527.31 L479.85 529.55 L481.71 531.8 L483.58 534.06 L485.44 536.33 L487.3 538.6 L489.16 540.87 L491.03 543.16 L492.89 545.44 L494.75 547.74 L496.61 550.03 L498.47 552.33 L500.34 554.64 L502.2 556.95 L504.06 559.26 L505.93 561.57 L507.79 563.88 L509.65 566.19 L511.51 568.51 L513.38 570.83 L515.24 573.14 L517.1 575.46 L518.96 577.77 L520.83 580.08 L522.69 582.39 L524.55 584.7 L526.41 587.01 L528.28 589.31 L530.14 591.61 L532 593.91 L533.86 596.2 L535.73 598.48 L537.59 600.76 L539.45 603.04 L540 603.71 L541.5 605.51 L543 607.33 L544.5 609.15 L546 610.97 L547.5 612.76 L549 614.52 L550.5 616.22 L552 617.88 L553.5 619.47 L555 620.96 L556.5 622.39 L558 623.82 L559.5 625.33 L561 627.07 L562.5 628.93 L564 630.75 L565.5 632.43 L567 633.94 L568.5 635.38 L570 636.84 L571.5 638.41 L573 640.12 L574.5 641.93 L576 643.79 L577.5 645.67 L579 647.6 L580.5 649.58 L582 651.56 L583.5 653.5 L585 655.37 L586.5 657.21 L588 659 L589.5 660.73 L591 662.34 L592.5 663.83 L594 665.27 L595.5 666.74 L597 668.37 L598.5 670.22 L600 672.17 L601.5 674.02 L603 675.58 L604.5 676.88 L606 678.04 L607.5 679.15 L609 680.3 L610.5 681.47 L612 682.61 L613.5 683.79 L615 685.04 L616.5 686.4 L618 687.86 L619.5 689.4 L621 690.97 L622.5 692.56 L624 694.19 L625.5 695.87 L627 697.58 L628.5 699.31 L630 701.08 L631.5 702.89" stroke="#ff8c00" stroke-width="4" stroke-linecap="round"/>
<path d="M159.5 390.79 L161.36 390.79 L163.22 390.79 L165.09 390.79 L166.95 390.79 L168.81 390.79 L170.68 390.79 L172.54 390.79 L174.4 390.79 L176.26 390.79 L178.12 390.79 L179.99 390.79 L181.85 390.79 L183.71 390.79 L185.57 390.79 L187.44 390.79 L189.3 390.79 L191.16 390.79 L193.03 390.79 L194.89 390.79 L196.75 390.79 L198.61 390.79 L200.47 390.79 L202.34 390.79 L204.2 390.79 L206.06 390.79 L207.93 390.79 L209.79 390.79 L211.65 390.79 L213.51 390.79 L215.38 390.79 L217.24 390.79 L219.1 390.79 L220.96 390.79 L222.83 390.79 L224.69 390.79 L226.55 390.79 L228.41 390.79 L230.28 390.79 L232.14 390.79 L234 390.79 L235.86 390.79 L237.73 390.79 L239.59 390.79 L241.45 390.79 L243.31 390.79 L245.18 390.79 L247.04 390.79 L248.9 390.79 L250.76 390.79 L252.62 390.79 L254.49 390.79 L256.35 390.79 L258.21 390.79 L260.07 390.79 L261.94 390.79 L263.8 390.79 L265.66 390.8 L267.53 390.8 L269.39 390.8 L271.25 390.8 L273.11 390.8 L274.98 390.8 L276.84 390.81 L278.7 390.81 L280.56 390.82 L282.43 390.82 L284.29 390.84 L286.15 390.85 L288.01 390.87 L289.88 390.89 L291.74 390.92 L293.6 390.96 L295.46 391.01 L297.33 391.08 L299.19 391.16 L301.05 391.25 L302.91 391.37 L304.77 391.51 L306.64 391.66 L308.5 391.84 L310.36 392.05 L312.23 392.28 L314.09 392.53 L315.95 392.81 L317.81 393.12 L319.67 393.46 L321.54 393.83 L323.4 394.23 L325.26 394.66 L327.12 395.12 L328.99 395.61 L330.85 396.14 L332.71 396.71 L334.58 397.32 L336.44 397.97 L338.3 398.66 L340.16 399.39 L342.02 400.18 L343.89 401.01 L345.75 401.89 L347.61 402.82 L349.48 403.8 L351.34 404.84 L353.2 405.92 L355.06 407.05 L356.93 408.24 L358.79 409.47 L360.65 410.75 L362.51 412.08 L364.38 413.46 L366.24 414.88 L368.1 416.35 L369.96 417.85 L371.83 419.4 L373.69 420.98 L375.55 422.6 L377.41 424.26 L379.27 425.94 L381.14 427.65 L383 429.38 L384.86 431.14 L386.73 432.92 L388.59 434.72 L390.45 436.54 L392.31 438.39 L394.18 440.25 L396.04 442.14 L397.9 444.05 L399.76 445.99 L401.62 447.94 L403.49 449.92 L405.35 451.93 L407.21 453.96 L409.08 456.02 L410.94 458.1 L412.8 460.2 L414.66 462.33 L416.53 464.47 L418.39 466.64 L420.25 468.82 L422.11 471.02 L423.98 473.23 L425.84 475.45 L427.7 477.69 L429.56 479.93 L431.43 482.19 L433.29 484.46 L435.15 486.74 L437.01 489.03 L438.88 491.33 L440.74 493.63 L442.6 495.95 L444.46 498.27 L446.32 500.6 L448.19 502.94 L450.05 505.28 L451.91 507.63 L453.78 509.99 L455.64 512.35 L457.5 514.72 L459.36 517.09 L461.22 519.47 L463.09 521.85 L464.95 524.23 L466.81 526.62 L468.68 529.01 L470.54 531.4 L472.4 533.8 L474.26 536.2 L476.12 538.6 L477.99 541 L479.85 543.4 L481.71 545.81 L483.58 548.22 L485.44 550.63 L487.3 553.04 L489.16 555.45 L491.03 557.87 L492.89 560.28 L494.75 562.7 L496.61 565.12 L498.47 567.54 L500.34 569.96 L502.2 572.39 L504.06 574.81 L505.93 577.24 L507.79 579.67 L509.65 582.1 L511.51 584.53 L513.38 586.97 L515.24 589.4 L517.1 591.84 L518.96 594.29 L520.83 596.73 L522.69 599.18 L524.55 601.64 L526.41 604.09 L528.28 606.55 L530.14 609.02 L532 611.49 L533.86 613.97 L535.73 616.45 L537.59 618.93 L539.45 621.43 L540 622.16 L541.5 624.06 L543 625.96 L544.5 627.85 L546 629.71 L547.5 631.53 L549 633.29 L550.5 635.01 L552 636.75 L553.5 638.59 L555 640.57 L556.5 642.66 L558 644.97 L559.5 647.38 L561 649.63 L562.5 651.72 L564 653.73 L565.5 655.73 L567 657.69 L568.5 659.61 L570 661.55 L571.5 663.54 L573 665.71 L574.5 668 L576 670.17 L577.5 672 L579 673.37 L580.5 674.54 L582 675.84 L583.5 677.25 L585 678.78 L586.5 680.53 L588 682.43 L589.5 684.41 L591 686.26 L592.5 687.26 L594 687.92 L595.5 688.67 L597 689.55 L598.5 690.59 L600 691.95 L601.5 693.73 L603 695.86 L604.5 698.61 L606 701.62 L607.5 704.86" stroke="#006400" stroke-width="4" stroke-linecap="round"/>
<path d="M159.5 390.79 L161.36 390.79 L163.22 390.79 L165.09 390.79 L166.95 390.79 L168.81 390.79 L170.68 390.79 L172.54 390.79 L174.4 390.79 L176.26 390.79 L178.12 390.79 L179.99 390.79 L181.85 390.79 L183.71 390.79 L185.57 390.79 L187.44 390.79 L189.3 390.79 L191.16 390.79 L193.03 390.79 L194.89 390.79 L196.75 390.79 L198.61 390.79 L200.47 390.79 L202.34 390.79 L204.2 390.79 L206.06 390.79 L207.93 390.79 L209.79 390.79 L211.65 390.79 L213.51 390.79 L215.38 390.79 L217.24 390.79 L219.1 390.79 L220.96 390.79 L222.83 390.79 L224.69 390.79 L226.55 390.79 L228.41 390.79 L230.28 390.79 L232.14 390.79 L234 390.79 L235.86 390.79 L237.73 390.79 L239.59 390.79 L241.45 390.79 L243.31 390.79 L245.18 390.79 L247.04 390.79 L248.9 390.79 L250.76 390.79 L252.62 390.79 L254.49 390.79 L256.35 390.8 L258.21 390.8 L260.07 390.8 L261.94 390.8 L263.8 390.8 L265.66 390.8 L267.53 390.8 L269.39 390.8 L271.25 390.81 L273.11 390.81 L274.98 390.82 L276.84 390.82 L278.7 390.83 L280.56 390.84 L282.43 390.85 L284.29 390.87 L286.15 390.89 L288.01 390.91 L289.88 390.94 L291.74 390.98 L293.6 391.02 L295.46 391.07 L297.33 391.14 L299.19 391.21 L301.05 391.3 L302.91 391.4 L304.77 391.52 L306.64 391.66 L308.5 391.82 L310.36 392 L312.23 392.21 L314.09 392.44 L315.95 392.71 L317.81 393 L319.67 393.33 L321.54 393.7 L323.4 394.11 L325.26 394.55 L327.12 395.05 L328.99 395.58 L330.85 396.17 L332.71 396.81 L334.58 397.5 L336.44 398.25 L338.3 399.06 L340.16 399.93 L342.02 400.86 L343.89 401.86 L345.75 402.92 L347.61 404.06 L349.48 405.26 L351.34 406.53 L353.2 407.87 L355.06 409.28 L356.93 410.76 L358.79 412.3 L360.65 413.91 L362.51 415.58 L364.38 417.32 L366.24 419.1 L368.1 420.95 L369.96 422.84 L371.83 424.78 L373.69 426.76 L375.55 428.78 L377.41 430.83 L379.27 432.92 L381.14 435.05 L383 437.21 L384.86 439.41 L386.73 441.65 L388.59 443.92 L390.45 446.24 L392.31 448.59 L394.18 450.99 L396.04 453.44 L397.9 455.93 L399.76 458.48 L401.62 461.08 L403.49 463.72 L405.35 466.42 L407.21 469.16 L409.08 471.94 L410.94 474.77 L412.8 477.63 L414.66 480.52 L416.53 483.45 L418.39 486.4 L420.25 489.39 L422.11 492.39 L423.98 495.41 L425.84 498.45 L427.7 501.5 L429.56 504.58 L431.43 507.66 L433.29 510.77 L435.15 513.89 L437.01 517.02 L438.88 520.17 L440.74 523.34 L442.6 526.51 L444.46 529.71 L446.32 532.92 L448.19 536.14 L450.05 539.38 L451.91 542.63 L453.78 545.9 L455.64 549.18 L457.5 552.48 L459.36 555.8 L461.22 559.14 L463.09 562.5 L464.95 565.87 L466.81 569.27 L468.68 572.68 L470.54 576.12 L472.4 579.59 L474.26 583.07 L476.12 586.58 L477.99 590.11 L479.85 593.66 L481.71 597.23 L483.58 600.82 L485.44 604.42 L487.3 608.04 L489.16 611.67 L491.03 615.32 L492.89 618.97 L494.75 622.63 L496.61 626.31 L498.47 629.98 L500.34 633.66 L502.2 637.35 L504.06 641.03 L505.93 644.72 L507.79 648.4 L509.65 652.08 L511.51 655.75 L513.38 659.42 L515.24 663.07 L517.1 666.71 L518.96 670.34 L520.83 673.96 L522.69 677.55 L524.55 681.13 L526.41 684.69 L528.28 688.22 L530.14 691.73 L532 695.21 L533.86 698.67 L535.73 702.15 L537.59 705.64 L539.45 709.16 L541.31 712.7 L543.17 716.27 L545.04 719.85 L546.9 723.46 L548.76 727.09 L550.62 730.74 L552.49 734.42 L554.35 738.11 L556.21 741.83 L558.08 745.57 L559.94 749.34 L561.8 753.12 L563.66 756.93 L565.53 760.76 L567.39 764.61 L569.25 768.49 L571.11 772.38 L572.98 776.3 L574.84 780.24 L576.7 784.21 L578.56 788.19 L580.42 792.2 L582.29 796.23 L584.15 800.29 L586.01 804.36 L587.88 808.46 L589.74 812.58 L591.6 816.72 L593.46 820.89 L595.33 825.08 L597.19 829.29 L599.05 833.52 L600.91 837.77 L602.78 842.05 L604.64 846.35 L606.5 850.67 L608.36 855.02 L610.23 859.39 L612.09 863.78 L613.95 868.19 L615.81 872.63 L617.67 877.08 L619.54 881.56 L621.4 886.07 L623.26 890.59 L625.12 895.14 L626.99 899.71 L628.85 904.3 L630.71 908.92 L632.58 913.56 L634.44 918.22 L636.3 922.9 L638.16 927.61 L640.03 932.34 L641.89 937.09 L643.75 941.87 L645.61 946.66 L647.48 951.48 L649.34 956.33 L651.2 961.19 L653.06 966.08 L654.92 969.61 L656.79 969.61 L658.65 969.61 L660.51 969.61 L662.38 969.61 L664.24 969.61 L666.1 969.61 L667.96 969.61 L669.83 969.61 L671.69 969.61 L673.55 969.61 L675.41 969.61 L677.27 969.61 L679.14 969.61 L681 969.61 L682.86 969.61 L684.73 969.61 L686.59 969.61 L688.45 969.61 L690.31 969.61 L692.18 969.61 L694.04 969.61 L695.9 969.61 L697.76 969.61 L699.62 969.61 L701.49 969.61 L703.35 969.61 L705.21 969.61 L707.08 969.61 L708.94 969.61 L710.8 969.61 L712.66 969.61 L714.52 969.61 L716.39 969.61 L718.25 969.61 L720.11 969.61 L721.98 969.61 L723.84 969.61 L725.7 969.61 L727.56 969.61 L729.43 969.61 L731.29 969.61 L733.15 969.61 L735.01 969.61 L736.88 969.61 L738.74 969.61 L740.6 969.61 L742.46 969.61 L744.33 969.61 L746.19 969.61 L748.05 969.61 L749.91 969.61 L751.77 969.61 L753.64 969.61 L755.5 969.61" stroke="#0000ff" stroke-width="4" stroke-dasharray="10.8 7.87"/>
</g>
<path d="M182 554.9H271.5" stroke="#000" stroke-width="7"/>
<path d="M182 583.8H271.5" stroke="#0000ff" stroke-width="4" stroke-dasharray="10.8 7.87"/>
<path d="M182 612.7H271.5" stroke="#006400" stroke-width="4"/>
<path d="M182 641.6H271.5" stroke="#ff8c00" stroke-width="4"/>
<path d="M182 670.5H271.5" stroke="#ff0000" stroke-width="4"/>
<path d="M132.19 52.79L133.92 51.92L136.52 49.33L136.52 67.49M132.19 67.49L139.98 67.49M135.65 50.19L135.65 67.49" fill="none" stroke="#000" stroke-width="0.75" stroke-linecap="round" stroke-linejoin="round"/>
<path d="M108.84 127.13L106.24 126.26L104.51 123.67L103.65 119.34L103.65 116.75L104.51 112.42L106.24 109.83L108.84 108.96L107.11 109.83L106.24 110.69L105.38 112.42L104.51 116.75L104.51 119.34L105.38 123.67L106.24 125.4L107.11 126.26L108.84 127.13L110.57 127.13L113.16 126.26L114.89 123.67L115.76 119.34L115.76 116.75L114.89 112.42L113.16 109.83L110.57 108.96L112.3 109.83L113.16 110.69L114.03 112.42L114.89 116.75L114.89 119.34L114.03 123.67L113.16 125.4L112.3 126.26L110.57 127.13M108.84 108.96L110.57 108.96M122.24 125.83L123.37 125.83L123.37 126.96L122.24 126.96L122.24 125.83M122.24 126.39L123.37 126.39M133.92 116.75L137.38 116.75L139.11 115.88L139.98 114.15L139.98 111.56L139.11 109.83L137.38 108.96L139.98 109.83L140.84 111.56L140.84 114.15L139.98 115.88L137.38 116.75L139.98 117.61L140.84 118.48L141.71 120.21L141.71 123.67L140.84 125.4L139.98 126.26L137.38 127.13L133.92 127.13L132.19 126.26L131.33 125.4L130.46 123.67L130.46 120.21L131.33 118.48L132.19 117.61L133.92 116.75L131.33 115.88L130.46 114.15L130.46 111.56L131.33 109.83L133.92 108.96L132.19 109.83L131.33 111.56L131.33 114.15L132.19 115.88L133.92 116.75L131.33 117.61L130.46 118.48L129.59 120.21L129.59 123.67L130.46 125.4L131.33 126.26L133.92 127.13M137.38 116.75L139.11 117.61L139.98 118.48L140.84 120.21L140.84 123.67L139.98 125.4L139.11 126.26L137.38 127.13M133.92 108.96L137.38 108.96" fill="none" stroke="#000" stroke-width="0.75" stroke-linecap="round" stroke-linejoin="round"/>
<path d="M108.84 186.77L106.24 185.9L104.51 183.31L103.65 178.98L103.65 176.39L104.51 172.06L106.24 169.47L108.84 168.6L107.11 169.47L106.24 170.33L105.38 172.06L104.51 176.39L104.51 178.98L105.38 183.31L106.24 185.04L107.11 185.9L108.84 186.77L110.57 186.77L113.16 185.9L114.89 183.31L115.76 178.98L115.76 176.39L114.89 172.06L113.16 169.47L110.57 168.6L112.3 169.47L113.16 170.33L114.03 172.06L114.89 176.39L114.89 178.98L114.03 183.31L113.16 185.04L112.3 185.9L110.57 186.77M108.84 168.6L110.57 168.6M122.24 185.47L123.37 185.47L123.37 186.59L122.24 186.59L122.24 185.47M122.24 186.03L123.37 186.03M135.65 168.6L133.92 169.47L132.19 171.2L131.33 172.93L130.46 176.39L130.46 181.58L131.33 184.17L133.06 185.9L134.79 186.77L132.19 185.9L130.46 184.17L129.59 181.58L129.59 176.39L130.46 172.93L131.33 171.2L133.06 169.47L135.65 168.6L138.25 168.6L139.98 169.47L140.84 171.2L140.84 172.06L139.98 172.93L139.11 172.06L139.98 171.2M136.52 186.77L138.25 185.9L139.98 184.17L140.84 181.58L140.84 180.71L139.98 178.12L138.25 176.39L136.52 175.52L139.11 176.39L140.84 178.12L141.71 180.71L141.71 181.58L140.84 184.17L139.11 185.9L136.52 186.77L134.79 186.77M130.46 180.71L131.33 178.12L133.06 176.39L135.65 175.52L136.52 175.52" fill="none" stroke="#000" stroke-width="0.75" stroke-linecap="round" stroke-linejoin="round"/>
<path d="M108.84 246.4L106.24 245.54L104.51 242.94L103.65 238.62L103.65 236.02L104.51 231.7L106.24 229.1L108.84 228.24L107.11 229.1L106.24 229.97L105.38 231.7L104.51 236.02L104.51 238.62L105.38 242.94L106.24 244.67L107.11 245.54L108.84 246.4L110.57 246.4L113.16 245.54L114.89 242.94L115.76 238.62L115.76 236.02L114.89 231.7L113.16 229.1L110.57 228.24L112.3 229.1L113.16 229.97L114.03 231.7L114.89 236.02L114.89 238.62L114.03 242.94L113.16 244.67L112.3 245.54L110.57 246.4M108.84 228.24L110.57 228.24M122.24 245.1L123.37 245.1L123.37 246.23L122.24 246.23L122.24 245.1M122.24 245.67L123.37 245.67M142.57 241.21L128.73 241.21L138.25 228.24L138.25 246.4M137.38 229.97L137.38 246.4M134.79 246.4L140.84 246.4" fill="none" stroke="#000" stroke-width="0.75" stroke-linecap="round" stroke-linejoin="round"/>
<path d="M108.84 306.04L106.24 305.17L104.51 302.58L103.65 298.25L103.65 295.66L104.51 291.33L106.24 288.74L108.84 287.87L107.11 288.74L106.24 289.6L105.38 291.33L104.51 295.66L104.51 298.25L105.38 302.58L106.24 304.31L107.11 305.17L108.84 306.04L110.57 306.04L113.16 305.17L114.89 302.58L115.76 298.25L115.76 295.66L114.89 291.33L113.16 288.74L110.57 287.87L112.3 288.74L113.16 289.6L114.03 291.33L114.89 295.66L114.89 298.25L114.03 302.58L113.16 304.31L112.3 305.17L110.57 306.04M108.84 287.87L110.57 287.87M122.24 304.74L123.37 304.74L123.37 305.86L122.24 305.86L122.24 304.74M122.24 305.3L123.37 305.3M129.59 304.31L130.46 303.44L132.19 303.44L136.52 306.04L139.98 306.04L140.84 305.17L141.71 303.44L140.84 304.31L139.11 305.17L136.52 305.17L132.19 303.44M133.92 298.25L138.25 296.52L140.84 294.79L141.71 293.06L141.71 291.33L140.84 289.6L139.98 288.74L137.38 287.87L139.11 288.74L139.98 289.6L140.84 291.33L140.84 293.06L139.98 294.79L137.38 296.52L132.19 299.12L130.46 300.85L129.59 303.44L129.59 306.04M141.71 301.71L141.71 303.44M137.38 287.87L133.92 287.87L131.33 288.74L130.46 289.6L129.59 291.33L129.59 292.2L130.46 293.06L131.33 292.2L130.46 291.33" fill="none" stroke="#000" stroke-width="0.75" stroke-linecap="round" stroke-linejoin="round"/>
<path d="M134.79 365.67L132.19 364.81L130.46 362.21L129.59 357.89L129.59 355.29L130.46 350.97L132.19 348.37L134.79 347.51L133.06 348.37L132.19 349.24L131.33 350.97L130.46 355.29L130.46 357.89L131.33 362.21L132.19 363.94L133.06 364.81L134.79 365.67L136.52 365.67L139.11 364.81L140.84 362.21L141.71 357.89L141.71 355.29L140.84 350.97L139.11 348.37L136.52 347.51L138.25 348.37L139.11 349.24L139.98 350.97L140.84 355.29L140.84 357.89L139.98 362.21L139.11 363.94L138.25 364.81L136.52 365.67M134.79 347.51L136.52 347.51" fill="none" stroke="#000" stroke-width="0.75" stroke-linecap="round" stroke-linejoin="round"/>
<path d="M132.19 385.17L133.92 384.31L136.52 381.71L136.52 399.88M132.19 399.88L139.98 399.88M135.65 382.58L135.65 399.88" fill="none" stroke="#000" stroke-width="0.75" stroke-linecap="round" stroke-linejoin="round"/>
<path d="M108.84 496.35L106.24 495.48L104.51 492.89L103.65 488.56L103.65 485.97L104.51 481.64L106.24 479.05L108.84 478.18L107.11 479.05L106.24 479.91L105.38 481.64L104.51 485.97L104.51 488.56L105.38 492.89L106.24 494.62L107.11 495.48L108.84 496.35L110.57 496.35L113.16 495.48L114.89 492.89L115.76 488.56L115.76 485.97L114.89 481.64L113.16 479.05L110.57 478.18L112.3 479.05L113.16 479.91L114.03 481.64L114.89 485.97L114.89 488.56L114.03 492.89L113.16 494.62L112.3 495.48L110.57 496.35M108.84 478.18L110.57 478.18M122.24 495.05L123.37 495.05L123.37 496.17L122.24 496.17L122.24 495.05M122.24 495.61L123.37 495.61M132.19 481.64L133.92 480.78L136.52 478.18L136.52 496.35M132.19 496.35L139.98 496.35M135.65 479.05L135.65 496.35" fill="none" stroke="#000" stroke-width="0.75" stroke-linecap="round" stroke-linejoin="round"/>
<path d="M91.54 592.82L88.94 591.95L87.21 589.36L86.35 585.03L86.35 582.44L87.21 578.11L88.94 575.52L91.54 574.65L89.81 575.52L88.94 576.38L88.08 578.11L87.21 582.44L87.21 585.03L88.08 589.36L88.94 591.09L89.81 591.95L91.54 592.82L93.27 592.82L95.86 591.95L97.59 589.36L98.46 585.03L98.46 582.44L97.59 578.11L95.86 575.52L93.27 574.65L95 575.52L95.86 576.38L96.73 578.11L97.59 582.44L97.59 585.03L96.73 589.36L95.86 591.09L95 591.95L93.27 592.82M91.54 574.65L93.27 574.65M104.94 591.52L106.07 591.52L106.07 592.64L104.94 592.64L104.94 591.52M104.94 592.08L106.07 592.08M117.49 592.82L114.89 591.95L113.16 589.36L112.3 585.03L112.3 582.44L113.16 578.11L114.89 575.52L117.49 574.65L115.76 575.52L114.89 576.38L114.03 578.11L113.16 582.44L113.16 585.03L114.03 589.36L114.89 591.09L115.76 591.95L117.49 592.82L119.22 592.82L121.81 591.95L123.54 589.36L124.41 585.03L124.41 582.44L123.54 578.11L121.81 575.52L119.22 574.65L120.95 575.52L121.81 576.38L122.68 578.11L123.54 582.44L123.54 585.03L122.68 589.36L121.81 591.09L120.95 591.95L119.22 592.82M117.49 574.65L119.22 574.65M132.19 578.11L133.92 577.25L136.52 574.65L136.52 592.82M132.19 592.82L139.98 592.82M135.65 575.52L135.65 592.82" fill="none" stroke="#000" stroke-width="0.75" stroke-linecap="round" stroke-linejoin="round"/>
<path d="M74.24 689.29L71.64 688.42L69.91 685.83L69.05 681.5L69.05 678.91L69.91 674.58L71.64 671.99L74.24 671.12L72.51 671.99L71.64 672.85L70.78 674.58L69.91 678.91L69.91 681.5L70.78 685.83L71.64 687.56L72.51 688.42L74.24 689.29L75.97 689.29L78.56 688.42L80.29 685.83L81.16 681.5L81.16 678.91L80.29 674.58L78.56 671.99L75.97 671.12L77.7 671.99L78.56 672.85L79.43 674.58L80.29 678.91L80.29 681.5L79.43 685.83L78.56 687.56L77.7 688.42L75.97 689.29M74.24 671.12L75.97 671.12M87.64 687.99L88.77 687.99L88.77 689.11L87.64 689.11L87.64 687.99M87.64 688.55L88.77 688.55M100.19 689.29L97.59 688.42L95.86 685.83L95 681.5L95 678.91L95.86 674.58L97.59 671.99L100.19 671.12L98.46 671.99L97.59 672.85L96.73 674.58L95.86 678.91L95.86 681.5L96.73 685.83L97.59 687.56L98.46 688.42L100.19 689.29L101.92 689.29L104.51 688.42L106.24 685.83L107.11 681.5L107.11 678.91L106.24 674.58L104.51 671.99L101.92 671.12L103.65 671.99L104.51 672.85L105.38 674.58L106.24 678.91L106.24 681.5L105.38 685.83L104.51 687.56L103.65 688.42L101.92 689.29M100.19 671.12L101.92 671.12M117.49 689.29L114.89 688.42L113.16 685.83L112.3 681.5L112.3 678.91L113.16 674.58L114.89 671.99L117.49 671.12L115.76 671.99L114.89 672.85L114.03 674.58L113.16 678.91L113.16 681.5L114.03 685.83L114.89 687.56L115.76 688.42L117.49 689.29L119.22 689.29L121.81 688.42L123.54 685.83L124.41 681.5L124.41 678.91L123.54 674.58L121.81 671.99L119.22 671.12L120.95 671.99L121.81 672.85L122.68 674.58L123.54 678.91L123.54 681.5L122.68 685.83L121.81 687.56L120.95 688.42L119.22 689.29M117.49 671.12L119.22 671.12M132.19 674.58L133.92 673.72L136.52 671.12L136.52 689.29M132.19 689.29L139.98 689.29M135.65 671.99L135.65 689.29" fill="none" stroke="#000" stroke-width="0.75" stroke-linecap="round" stroke-linejoin="round"/>
<path d="M158.63 733.5L156.04 732.63L154.31 730.04L153.44 725.72L153.44 723.12L154.31 718.79L156.04 716.2L158.63 715.34L156.91 716.2L156.04 717.07L155.18 718.79L154.31 723.12L154.31 725.72L155.18 730.04L156.04 731.77L156.91 732.63L158.63 733.5L160.37 733.5L162.96 732.63L164.69 730.04L165.56 725.72L165.56 723.12L164.69 718.79L162.96 716.2L160.37 715.34L162.09 716.2L162.96 717.07L163.82 718.79L164.69 723.12L164.69 725.72L163.82 730.04L162.96 731.77L162.09 732.63L160.37 733.5M158.63 715.34L160.37 715.34" fill="none" stroke="#000" stroke-width="0.75" stroke-linecap="round" stroke-linejoin="round"/>
<path d="M302.44 731.77L303.31 730.9L305.04 730.9L309.37 733.5L312.82 733.5L313.69 732.63L314.56 730.9L313.69 731.77L311.96 732.63L309.37 732.63L305.04 730.9M306.77 725.72L311.1 723.99L313.69 722.25L314.56 720.52L314.56 718.79L313.69 717.07L312.82 716.2L310.23 715.34L311.96 716.2L312.82 717.07L313.69 718.79L313.69 720.52L312.82 722.25L310.23 723.99L305.04 726.58L303.31 728.31L302.44 730.9L302.44 733.5M314.56 729.17L314.56 730.9M310.23 715.34L306.77 715.34L304.18 716.2L303.31 717.07L302.44 718.79L302.44 719.66L303.31 720.52L304.18 719.66L303.31 718.79" fill="none" stroke="#000" stroke-width="0.75" stroke-linecap="round" stroke-linejoin="round"/>
<path d="M464.42 728.31L450.58 728.31L460.1 715.34L460.1 733.5M459.23 717.07L459.23 733.5M456.63 733.5L462.69 733.5" fill="none" stroke="#000" stroke-width="0.75" stroke-linecap="round" stroke-linejoin="round"/>
<path d="M606.5 715.34L604.77 716.2L603.04 717.93L602.17 719.66L601.31 723.12L601.31 728.31L602.17 730.9L603.9 732.63L605.63 733.5L603.04 732.63L601.31 730.9L600.45 728.31L600.45 723.12L601.31 719.66L602.17 717.93L603.9 716.2L606.5 715.34L609.1 715.34L610.83 716.2L611.69 717.93L611.69 718.79L610.83 719.66L609.96 718.79L610.83 717.93M607.37 733.5L609.1 732.63L610.83 730.9L611.69 728.31L611.69 727.45L610.83 724.85L609.1 723.12L607.37 722.25L609.96 723.12L611.69 724.85L612.55 727.45L612.55 728.31L611.69 730.9L609.96 732.63L607.37 733.5L605.63 733.5M601.31 727.45L602.17 724.85L603.9 723.12L606.5 722.25L607.37 722.25" fill="none" stroke="#000" stroke-width="0.75" stroke-linecap="round" stroke-linejoin="round"/>
<path d="M753.77 723.12L757.23 723.12L758.96 722.25L759.83 720.52L759.83 717.93L758.96 716.2L757.23 715.34L759.83 716.2L760.69 717.93L760.69 720.52L759.83 722.25L757.23 723.12L759.83 723.99L760.69 724.85L761.55 726.58L761.55 730.04L760.69 731.77L759.83 732.63L757.23 733.5L753.77 733.5L752.04 732.63L751.17 731.77L750.31 730.04L750.31 726.58L751.17 724.85L752.04 723.99L753.77 723.12L751.17 722.25L750.31 720.52L750.31 717.93L751.17 716.2L753.77 715.34L752.04 716.2L751.17 717.93L751.17 720.52L752.04 722.25L753.77 723.12L751.17 723.99L750.31 724.85L749.45 726.58L749.45 730.04L750.31 731.77L751.17 732.63L753.77 733.5M757.23 723.12L758.96 723.99L759.83 724.85L760.69 726.58L760.69 730.04L759.83 731.77L758.96 732.63L757.23 733.5M753.77 715.34L757.23 715.34" fill="none" stroke="#000" stroke-width="0.75" stroke-linecap="round" stroke-linejoin="round"/>
<path d="M290.43 555.94L291.13 557.34L291.13 559.42L290.43 560.82L289.74 561.51L288.34 562.21L290.43 561.51L291.13 560.82L291.82 559.42L291.82 557.34L291.13 555.94L290.43 555.25L288.34 554.55L290.43 553.86L291.13 553.16L291.82 551.77L291.82 550.38L291.13 548.98L290.43 548.29L288.34 547.59L289.74 548.29L290.43 548.98L291.13 550.38L291.13 551.77L290.43 553.16L289.74 553.86L288.34 554.55L289.74 555.25L290.43 555.94M282.78 547.59L282.78 562.21M282.08 547.59L282.08 562.21M282.78 554.55L288.34 554.55M279.99 547.59L288.34 547.59M279.99 562.21L288.34 562.21M300.18 552.46L302.26 552.46L303.66 553.16L304.35 553.86L305.05 555.25L305.05 556.64L296.7 556.64L297.39 554.55L298.78 553.16L300.18 552.46L298.09 553.16L296.7 554.55L296 556.64L296 558.03L296.7 560.12L298.09 561.51L300.18 562.21L298.78 561.51L297.39 560.12L296.7 558.03L296.7 556.64M300.18 562.21L301.57 562.21L303.66 561.51L305.05 560.12M303.66 553.16L304.35 554.55L304.35 556.64M313.4 562.21L311.31 561.51L309.92 560.12L309.22 558.03L309.22 556.64L309.92 554.55L311.31 553.16L313.4 552.46L312.01 553.16L310.62 554.55L309.92 556.64L309.92 558.03L310.62 560.12L312.01 561.51L313.4 562.21L314.79 562.21L316.88 561.51L318.27 560.12M313.4 552.46L315.49 552.46L316.88 553.16L318.27 554.55L318.27 555.25L317.58 555.94L316.88 555.25L317.58 554.55M321.75 562.21L326.62 562.21M321.75 547.59L324.54 547.59L324.54 562.21M328.02 556.64L332.19 562.21M323.84 547.59L323.84 562.21M329.41 552.46L333.58 552.46M329.41 562.21L333.58 562.21M324.54 559.42L331.5 552.46M327.32 556.64L331.5 562.21M341.24 552.46L343.33 552.46L344.72 553.16L345.42 553.86L346.11 555.25L346.11 556.64L337.76 556.64L338.46 554.55L339.85 553.16L341.24 552.46L339.15 553.16L337.76 554.55L337.06 556.64L337.06 558.03L337.76 560.12L339.15 561.51L341.24 562.21L339.85 561.51L338.46 560.12L337.76 558.03L337.76 556.64M341.24 562.21L342.63 562.21L344.72 561.51L346.11 560.12M344.72 553.16L345.42 554.55L345.42 556.64M357.94 553.16L357.25 553.86L357.94 554.55L358.64 553.86L358.64 553.16L357.94 552.46L355.86 552.46L354.46 553.16L353.07 554.55L352.38 556.64M349.59 552.46L352.38 552.46L352.38 562.21M349.59 562.21L354.46 562.21M351.68 552.46L351.68 562.21M362.82 555.94L375.34 555.94M369.08 549.68L369.08 562.21M382.3 550.38L383.7 549.68L385.78 547.59L385.78 562.21M382.3 562.21L388.57 562.21M385.09 548.29L385.09 562.21M395.53 548.29L399.01 548.29L402.49 547.59L395.53 547.59L394.14 554.55L395.53 553.16L397.62 552.46L399.7 552.46L401.1 553.16L402.49 554.55L403.18 556.64L403.18 558.03L402.49 560.12L401.1 561.51L399.7 562.21L401.79 561.51L403.18 560.12L403.88 558.03L403.88 556.64L403.18 554.55L401.79 553.16L399.7 552.46M394.83 559.42L395.53 558.73L394.83 558.03L394.14 558.73L394.14 559.42L394.83 560.82L395.53 561.51L397.62 562.21L399.7 562.21" fill="none" stroke="#000" stroke-width="1.0" stroke-linecap="round" stroke-linejoin="round"/>
<path d="M282.08 576.49L282.08 586.93L282.78 589.02L284.17 590.41L286.26 591.11L287.65 591.11L289.74 590.41L291.13 589.02L291.82 586.93L291.82 576.49M279.99 576.49L284.86 576.49M282.78 576.49L282.78 586.93L283.47 589.02L284.86 590.41L286.26 591.11M289.74 576.49L293.91 576.49M299.48 583.45L300.87 582.06L302.96 581.36L304.35 581.36L305.74 582.06L306.44 583.45L306.44 591.11M296.7 591.11L301.57 591.11M304.35 581.36L306.44 582.06L307.14 583.45L307.14 591.11M296.7 581.36L299.48 581.36L299.48 591.11M304.35 591.11L309.22 591.11M298.78 581.36L298.78 591.11M314.1 577.88L314.79 577.19L314.1 576.49L313.4 577.19L314.1 577.88M312.01 581.36L314.79 581.36L314.79 591.11M312.01 591.11L316.88 591.11M314.1 581.36L314.1 591.11M325.23 577.19L324.54 577.88L325.23 578.58L325.93 577.88L325.93 577.19L325.23 576.49L323.84 576.49L323.14 577.19L322.45 578.58L322.45 591.11M319.66 591.11L324.54 591.11M321.75 591.11L321.75 578.58L322.45 577.19L323.84 576.49M319.66 581.36L325.23 581.36M330.1 584.84L342.63 584.84M346.81 576.49L357.94 576.49L357.94 580.67L357.25 576.49M346.81 591.11L351.68 591.11M349.59 576.49L349.59 591.11M348.9 576.49L348.9 591.11" fill="none" stroke="#000" stroke-width="1.0" stroke-linecap="round" stroke-linejoin="round"/>
<path d="M279.99 605.39L291.13 605.39L291.13 609.57L290.43 605.39M279.99 620.01L284.86 620.01M282.78 605.39L282.78 620.01M286.95 609.57L286.95 615.14M282.08 605.39L282.08 620.01M282.78 612.35L286.95 612.35M293.91 620.01L298.78 620.01M293.91 605.39L296.7 605.39L296.7 620.01M296 605.39L296 620.01M301.57 610.26L304.35 610.26L304.35 617.92L305.05 619.31L306.44 620.01L304.35 619.31L303.66 617.92L303.66 610.26M306.44 620.01L307.83 620.01L309.92 619.31L311.31 617.92M311.31 610.26L311.31 620.01L314.1 620.01M309.22 610.26L312.01 610.26L312.01 620.01M321.75 620.01L319.66 619.31L318.27 617.92L317.58 615.83L317.58 614.44L318.27 612.35L319.66 610.96L321.75 610.26L320.36 610.96L318.97 612.35L318.27 614.44L318.27 615.83L318.97 617.92L320.36 619.31L321.75 620.01L323.14 620.01L325.23 619.31L326.62 617.92M321.75 610.26L323.84 610.26L325.23 610.96L326.62 612.35L326.62 613.05L325.93 613.74L325.23 613.05L325.93 612.35M332.89 605.39L332.89 617.22L333.58 619.31L334.28 620.01L335.67 620.01L337.06 619.31L337.76 617.92M330.1 610.26L335.67 610.26M332.19 605.39L332.19 617.22L332.89 619.31L334.28 620.01M341.94 613.74L354.46 613.74M359.34 605.39L360.73 605.39L362.12 606.09L362.82 607.48L368.38 620.01L369.08 620.01M360.73 605.39L361.42 606.78L367.69 620.01L368.38 620.01M364.21 610.96L359.34 620.01M364.21 611.66L360.03 620.01M373.95 611.66L386.48 611.66M373.95 615.83L386.48 615.83M392.05 617.22L392.74 616.53L392.05 615.83L391.35 616.53L391.35 617.22L392.05 618.62L392.74 619.31L394.83 620.01L397.62 620.01L399.7 619.31L400.4 618.62L401.1 617.22L401.1 615.14L400.4 613.74L399.01 612.35L397.62 611.66L399.7 610.96L400.4 609.57L400.4 607.48L399.7 606.09L397.62 605.39L399.01 606.09L399.7 607.48L399.7 609.57L399.01 610.96L397.62 611.66L395.53 611.66M399.7 613.05L400.4 615.14L400.4 617.22L399.7 618.62L399.01 619.31L397.62 620.01M397.62 605.39L394.83 605.39L392.74 606.09L392.05 606.78L391.35 608.18L391.35 608.87L392.05 609.57L392.74 608.87L392.05 608.18M415.71 615.83L404.58 615.83L412.23 605.39L412.23 620.01M411.54 606.78L411.54 620.01M409.45 620.01L414.32 620.01M429.63 605.39L432.42 605.39L436.59 617.92M431.72 620.01L431.72 605.39L436.59 620.01L441.46 605.39L444.25 605.39M442.16 605.39L442.16 620.01M441.46 605.39L441.46 620.01M429.63 620.01L433.81 620.01M439.38 620.01L444.25 620.01M449.82 612.35L451.21 610.96L452.6 610.26L453.99 610.26L456.08 610.96L457.47 612.35L458.17 614.44L458.17 615.83L457.47 617.92L456.08 619.31L453.99 620.01L452.6 620.01L451.21 619.31L449.82 617.92M453.99 610.26L455.38 610.96L456.78 612.35L457.47 614.44L457.47 615.83L456.78 617.92L455.38 619.31L453.99 620.01M447.03 610.26L449.82 610.26L449.82 624.88M449.12 610.26L449.12 624.88M447.03 624.88L451.9 624.88M466.52 620.01L464.43 619.31L463.04 617.92L462.34 615.83L462.34 614.44L463.04 612.35L464.43 610.96L466.52 610.26L465.13 610.96L463.74 612.35L463.04 614.44L463.04 615.83L463.74 617.92L465.13 619.31L466.52 620.01L467.91 620.01L470 619.31L471.39 617.92M466.52 610.26L468.61 610.26L470 610.96L471.39 612.35L471.39 613.05L470.7 613.74L470 613.05L470.7 612.35" fill="none" stroke="#000" stroke-width="1.0" stroke-linecap="round" stroke-linejoin="round"/>
<path d="M279.99 634.29L291.13 634.29L291.13 638.47L290.43 634.29M279.99 648.91L284.86 648.91M282.78 634.29L282.78 648.91M286.95 638.47L286.95 644.04M282.08 634.29L282.08 648.91M282.78 641.25L286.95 641.25M293.91 648.91L298.78 648.91M293.91 634.29L296.7 634.29L296.7 648.91M296 634.29L296 648.91M301.57 639.16L304.35 639.16L304.35 646.82L305.05 648.21L306.44 648.91L304.35 648.21L303.66 646.82L303.66 639.16M306.44 648.91L307.83 648.91L309.92 648.21L311.31 646.82M311.31 639.16L311.31 648.91L314.1 648.91M309.22 639.16L312.01 639.16L312.01 648.91M321.75 648.91L319.66 648.21L318.27 646.82L317.58 644.73L317.58 643.34L318.27 641.25L319.66 639.86L321.75 639.16L320.36 639.86L318.97 641.25L318.27 643.34L318.27 644.73L318.97 646.82L320.36 648.21L321.75 648.91L323.14 648.91L325.23 648.21L326.62 646.82M321.75 639.16L323.84 639.16L325.23 639.86L326.62 641.25L326.62 641.95L325.93 642.64L325.23 641.95L325.93 641.25M332.89 634.29L332.89 646.12L333.58 648.21L334.28 648.91L335.67 648.91L337.06 648.21L337.76 646.82M330.1 639.16L335.67 639.16M332.19 634.29L332.19 646.12L332.89 648.21L334.28 648.91M341.94 642.64L354.46 642.64M359.34 634.29L360.73 634.29L362.12 634.99L362.82 636.38L368.38 648.91L369.08 648.91M360.73 634.29L361.42 635.68L367.69 648.91L368.38 648.91M364.21 639.86L359.34 648.91M364.21 640.56L360.03 648.91M373.95 640.56L386.48 640.56M373.95 644.73L386.48 644.73M391.35 647.52L392.05 646.82L393.44 646.82L396.92 648.91L399.7 648.91L400.4 648.21L401.1 646.82L400.4 647.52L399.01 648.21L396.92 648.21L393.44 646.82M394.83 642.64L398.31 641.25L400.4 639.86L401.1 638.47L401.1 637.08L400.4 635.68L399.7 634.99L397.62 634.29L399.01 634.99L399.7 635.68L400.4 637.08L400.4 638.47L399.7 639.86L397.62 641.25L393.44 643.34L392.05 644.73L391.35 646.82L391.35 648.91M401.1 645.43L401.1 646.82M397.62 634.29L394.83 634.29L392.74 634.99L392.05 635.68L391.35 637.08L391.35 637.77L392.05 638.47L392.74 637.77L392.05 637.08M405.27 647.52L405.97 646.82L407.36 646.82L410.84 648.91L413.62 648.91L414.32 648.21L415.02 646.82L414.32 647.52L412.93 648.21L410.84 648.21L407.36 646.82M408.75 642.64L412.23 641.25L414.32 639.86L415.02 638.47L415.02 637.08L414.32 635.68L413.62 634.99L411.54 634.29L412.93 634.99L413.62 635.68L414.32 637.08L414.32 638.47L413.62 639.86L411.54 641.25L407.36 643.34L405.97 644.73L405.27 646.82L405.27 648.91M415.02 645.43L415.02 646.82M411.54 634.29L408.75 634.29L406.66 634.99L405.97 635.68L405.27 637.08L405.27 637.77L405.97 638.47L406.66 637.77L405.97 637.08M429.63 634.29L432.42 634.29L436.59 646.82M431.72 648.91L431.72 634.29L436.59 648.91L441.46 634.29L444.25 634.29M442.16 634.29L442.16 648.91M441.46 634.29L441.46 648.91M429.63 648.91L433.81 648.91M439.38 648.91L444.25 648.91M449.82 641.25L451.21 639.86L452.6 639.16L453.99 639.16L456.08 639.86L457.47 641.25L458.17 643.34L458.17 644.73L457.47 646.82L456.08 648.21L453.99 648.91L452.6 648.91L451.21 648.21L449.82 646.82M453.99 639.16L455.38 639.86L456.78 641.25L457.47 643.34L457.47 644.73L456.78 646.82L455.38 648.21L453.99 648.91M447.03 639.16L449.82 639.16L449.82 653.78M449.12 639.16L449.12 653.78M447.03 653.78L451.9 653.78M466.52 648.91L464.43 648.21L463.04 646.82L462.34 644.73L462.34 643.34L463.04 641.25L464.43 639.86L466.52 639.16L465.13 639.86L463.74 641.25L463.04 643.34L463.04 644.73L463.74 646.82L465.13 648.21L466.52 648.91L467.91 648.91L470 648.21L471.39 646.82M466.52 639.16L468.61 639.16L470 639.86L471.39 641.25L471.39 641.95L470.7 642.64L470 641.95L470.7 641.25" fill="none" stroke="#000" stroke-width="1.0" stroke-linecap="round" stroke-linejoin="round"/>
<path d="M279.99 663.19L291.13 663.19L291.13 667.37L290.43 663.19M279.99 677.81L284.86 677.81M282.78 663.19L282.78 677.81M286.95 667.37L286.95 672.94M282.08 663.19L282.08 677.81M282.78 670.15L286.95 670.15M293.91 677.81L298.78 677.81M293.91 663.19L296.7 663.19L296.7 677.81M296 663.19L296 677.81M301.57 668.06L304.35 668.06L304.35 675.72L305.05 677.11L306.44 677.81L304.35 677.11L303.66 675.72L303.66 668.06M306.44 677.81L307.83 677.81L309.92 677.11L311.31 675.72M311.31 668.06L311.31 677.81L314.1 677.81M309.22 668.06L312.01 668.06L312.01 677.81M321.75 677.81L319.66 677.11L318.27 675.72L317.58 673.63L317.58 672.24L318.27 670.15L319.66 668.76L321.75 668.06L320.36 668.76L318.97 670.15L318.27 672.24L318.27 673.63L318.97 675.72L320.36 677.11L321.75 677.81L323.14 677.81L325.23 677.11L326.62 675.72M321.75 668.06L323.84 668.06L325.23 668.76L326.62 670.15L326.62 670.85L325.93 671.54L325.23 670.85L325.93 670.15M332.89 663.19L332.89 675.02L333.58 677.11L334.28 677.81L335.67 677.81L337.06 677.11L337.76 675.72M330.1 668.06L335.67 668.06M332.19 663.19L332.19 675.02L332.89 677.11L334.28 677.81M341.94 671.54L354.46 671.54M359.34 663.19L360.73 663.19L362.12 663.89L362.82 665.28L368.38 677.81L369.08 677.81M360.73 663.19L361.42 664.58L367.69 677.81L368.38 677.81M364.21 668.76L359.34 677.81M364.21 669.46L360.03 677.81M373.95 669.46L386.48 669.46M373.95 673.63L386.48 673.63M393.44 665.98L394.83 665.28L396.92 663.19L396.92 677.81M393.44 677.81L399.7 677.81M396.22 663.89L396.22 677.81M406.66 663.89L410.14 663.89L413.62 663.19L406.66 663.19L405.27 670.15L406.66 668.76L408.75 668.06L410.84 668.06L412.23 668.76L413.62 670.15L414.32 672.24L414.32 673.63L413.62 675.72L412.23 677.11L410.84 677.81L412.93 677.11L414.32 675.72L415.02 673.63L415.02 672.24L414.32 670.15L412.93 668.76L410.84 668.06M405.97 675.02L406.66 674.33L405.97 673.63L405.27 674.33L405.27 675.02L405.97 676.42L406.66 677.11L408.75 677.81L410.84 677.81M429.63 663.19L432.42 663.19L436.59 675.72M431.72 677.81L431.72 663.19L436.59 677.81L441.46 663.19L444.25 663.19M442.16 663.19L442.16 677.81M441.46 663.19L441.46 677.81M429.63 677.81L433.81 677.81M439.38 677.81L444.25 677.81M449.82 670.15L451.21 668.76L452.6 668.06L453.99 668.06L456.08 668.76L457.47 670.15L458.17 672.24L458.17 673.63L457.47 675.72L456.08 677.11L453.99 677.81L452.6 677.81L451.21 677.11L449.82 675.72M453.99 668.06L455.38 668.76L456.78 670.15L457.47 672.24L457.47 673.63L456.78 675.72L455.38 677.11L453.99 677.81M447.03 668.06L449.82 668.06L449.82 682.68M449.12 668.06L449.12 682.68M447.03 682.68L451.9 682.68M466.52 677.81L464.43 677.11L463.04 675.72L462.34 673.63L462.34 672.24L463.04 670.15L464.43 668.76L466.52 668.06L465.13 668.76L463.74 670.15L463.04 672.24L463.04 673.63L463.74 675.72L465.13 677.11L466.52 677.81L467.91 677.81L470 677.11L471.39 675.72M466.52 668.06L468.61 668.06L470 668.76L471.39 670.15L471.39 670.85L470.7 671.54L470 670.85L470.7 670.15" fill="none" stroke="#000" stroke-width="1.0" stroke-linecap="round" stroke-linejoin="round"/>
<path d="M56.9 301.46L56.9 290.12M40.7 282.02L39.08 277.16L37.46 275.54L34.22 273.92L29.36 273.92L26.12 275.54L24.5 277.16L22.88 282.02L24.5 278.78L26.12 277.16L29.36 275.54L34.22 275.54L37.46 277.16L39.08 278.78L40.7 282.02L40.7 294.98M22.88 294.98L56.9 294.98M22.88 296.6L56.9 296.6M22.88 301.46L22.88 282.02M65 254.48L58.52 257.72L53.66 259.34L45.56 260.96L39.08 260.96L30.98 259.34L26.12 257.72L19.64 254.48L24.5 257.72L30.98 260.96L39.08 262.58L45.56 262.58L53.66 260.96L60.14 257.72L65 254.48L68.24 251.24M19.64 254.48L16.4 251.24M27.74 213.98L42.32 239.9L56.9 213.98M35.84 178.34L35.84 196.16L37.46 201.02L39.08 204.26L35.84 201.02L34.22 196.16L34.22 178.34M35.03 189.19L56.9 192.43L56.9 194.54L35.03 189.19M58.46 167.83L58.46 164.86L59.44 162.89L60.43 161.9L62.41 160.91L64.38 160.91L64.38 172.77L61.42 171.78L59.44 169.8L58.46 167.83L59.44 170.79L61.42 172.77L64.38 173.76L66.36 173.76L69.33 172.77L71.3 170.79L72.29 167.83L71.3 169.8L69.33 171.78L66.36 172.77L64.38 172.77M72.29 167.83L72.29 165.85L71.3 162.89L69.33 160.91M59.44 162.89L61.42 161.9L64.38 161.9M52.53 148.06L53.51 149.05L54.5 148.06L53.51 147.07L52.53 147.07L51.54 148.06L51.54 150.04L52.53 151.03L54.5 152.01L72.29 152.01M72.29 155.97L72.29 149.05M72.29 153L54.5 153L52.53 152.01L51.54 150.04M58.46 155.97L58.46 148.06M52.53 135.22L53.51 136.2L54.5 135.22L53.51 134.23L52.53 134.23L51.54 135.22L51.54 137.19L52.53 138.18L54.5 139.17L72.29 139.17M72.29 143.12L72.29 136.2M72.29 140.16L54.5 140.16L52.53 139.17L51.54 137.19M58.46 143.12L58.46 135.22M39.08 117.67L45.56 117.67L53.66 119.29L58.52 120.91L65 124.15L60.14 120.91L53.66 117.67L45.56 116.05L39.08 116.05L30.98 117.67L24.5 120.91L19.64 124.15L26.12 120.91L30.98 119.29L39.08 117.67M68.24 127.39L65 124.15M16.4 127.39L19.64 124.15" fill="none" stroke="#000" stroke-width="1.0" stroke-linecap="round" stroke-linejoin="round"/>
<path d="M44.5 629.06L44.5 617.72M28.3 609.62L26.68 604.76L25.06 603.14L21.82 601.52L16.96 601.52L13.72 603.14L12.1 604.76L10.48 609.62L12.1 606.38L13.72 604.76L16.96 603.14L21.82 603.14L25.06 604.76L26.68 606.38L28.3 609.62L28.3 622.58M10.48 622.58L44.5 622.58M10.48 624.2L44.5 624.2M10.48 629.06L10.48 609.62M52.6 582.08L46.12 585.32L41.26 586.94L33.16 588.56L26.68 588.56L18.58 586.94L13.72 585.32L7.24 582.08L12.1 585.32L18.58 588.56L26.68 590.18L33.16 590.18L41.26 588.56L47.74 585.32L52.6 582.08L55.84 578.84M7.24 582.08L4 578.84M44.5 567.5L29.92 541.58L15.34 567.5M23.44 505.94L23.44 523.76L25.06 528.62L26.68 531.86L23.44 528.62L21.82 523.76L21.82 505.94M22.63 516.79L44.5 520.03L44.5 522.14L22.63 516.79M46.06 495.43L46.06 492.46L47.04 490.49L48.03 489.5L50.01 488.51L51.98 488.51L51.98 500.37L49.02 499.38L47.04 497.4L46.06 495.43L47.04 498.39L49.02 500.37L51.98 501.36L53.96 501.36L56.93 500.37L58.9 498.39L59.89 495.43L58.9 497.4L56.93 499.38L53.96 500.37L51.98 500.37M59.89 495.43L59.89 493.45L58.9 490.49L56.93 488.51M47.04 490.49L49.02 489.5L51.98 489.5M40.13 475.66L41.11 476.65L42.1 475.66L41.11 474.67L40.13 474.67L39.14 475.66L39.14 477.64L40.13 478.63L42.1 479.61L59.89 479.61M59.89 483.57L59.89 476.65M59.89 480.6L42.1 480.6L40.13 479.61L39.14 477.64M46.06 483.57L46.06 475.66M40.13 462.82L41.11 463.8L42.1 462.82L41.11 461.83L40.13 461.83L39.14 462.82L39.14 464.79L40.13 465.78L42.1 466.77L59.89 466.77M59.89 470.72L59.89 463.8M59.89 467.76L42.1 467.76L40.13 466.77L39.14 464.79M46.06 470.72L46.06 462.82M26.68 445.27L33.16 445.27L41.26 446.89L46.12 448.51L52.6 451.75L47.74 448.51L41.26 445.27L33.16 443.65L26.68 443.65L18.58 445.27L12.1 448.51L7.24 451.75L13.72 448.51L18.58 446.89L26.68 445.27M55.84 454.99L52.6 451.75M4 454.99L7.24 451.75" fill="none" stroke="#000" stroke-width="1.0" stroke-linecap="round" stroke-linejoin="round"/>
<path d="M449.06 757.94L431.24 757.94L426.38 759.56L423.14 761.18L426.38 757.94L431.24 756.32L449.06 756.32M438.21 757.13L434.97 779L432.86 779L438.21 757.13M459.57 780.56L462.54 780.56L464.51 781.54L465.5 782.53L466.49 784.51L466.49 786.48L454.63 786.48L455.62 783.52L457.6 781.54L459.57 780.56L456.61 781.54L454.63 783.52L453.64 786.48L453.64 788.46L454.63 791.43L456.61 793.4L459.57 794.39L457.6 793.4L455.62 791.43L454.63 788.46L454.63 786.48M459.57 794.39L461.55 794.39L464.51 793.4L466.49 791.43M464.51 781.54L465.5 783.52L465.5 786.48M479.34 774.63L478.35 775.61L479.34 776.6L480.33 775.61L480.33 774.63L479.34 773.64L477.36 773.64L476.37 774.63L475.38 776.6L475.38 794.39M471.43 794.39L478.35 794.39M474.4 794.39L474.4 776.6L475.38 774.63L477.36 773.64M471.43 780.56L479.34 780.56M492.18 774.63L491.2 775.61L492.18 776.6L493.17 775.61L493.17 774.63L492.18 773.64L490.21 773.64L489.22 774.63L488.23 776.6L488.23 794.39M484.28 794.39L491.2 794.39M487.24 794.39L487.24 776.6L488.23 774.63L490.21 773.64M484.28 780.56L492.18 780.56" fill="none" stroke="#000" stroke-width="1.0" stroke-linecap="round" stroke-linejoin="round"/>
</svg>
</body></html>
